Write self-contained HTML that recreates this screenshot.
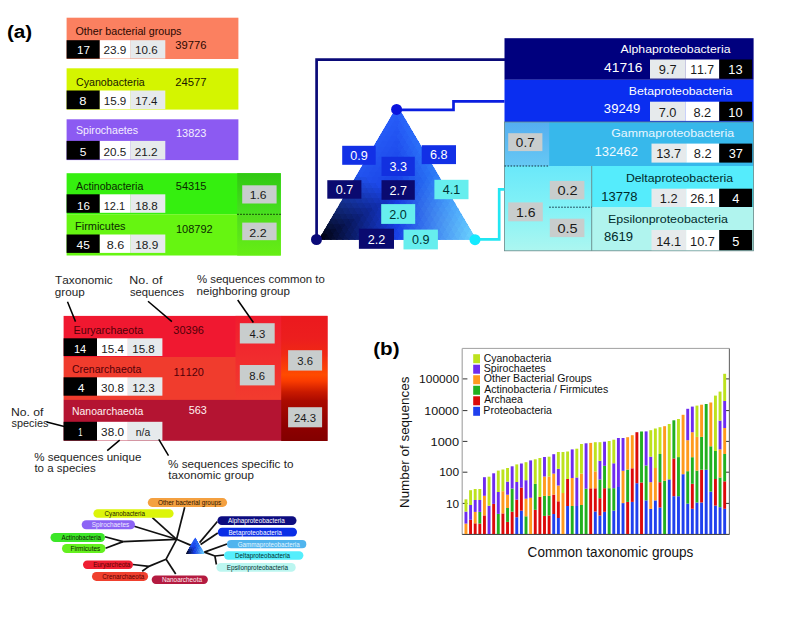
<!DOCTYPE html><html><head><meta charset="utf-8"><style>html,body{margin:0;padding:0;background:#fff;}svg{display:block;}text{font-family:"Liberation Sans",sans-serif;font-kerning:none;}</style></head><body>
<svg width="785" height="627" viewBox="0 0 785 627">
<defs><linearGradient id="actR" x1="0" y1="0" x2="0" y2="1"><stop offset="0" stop-color="#30c812"/><stop offset="0.5" stop-color="#48e020"/><stop offset="0.5" stop-color="#50dc1e"/><stop offset="1" stop-color="#66ee14"/></linearGradient><linearGradient id="arcR" x1="0" y1="0" x2="0" y2="1"><stop offset="0" stop-color="#eb191e"/><stop offset="0.18" stop-color="#ec1e1e"/><stop offset="0.3" stop-color="#f02814"/><stop offset="0.47" stop-color="#ff4b00"/><stop offset="0.52" stop-color="#fa3c00"/><stop offset="0.61" stop-color="#c81900"/><stop offset="0.68" stop-color="#aa0a00"/><stop offset="0.9" stop-color="#8c0000"/><stop offset="1" stop-color="#820000"/></linearGradient><linearGradient id="arcM" x1="0" y1="0" x2="0" y2="1"><stop offset="0" stop-color="#f01c2e"/><stop offset="1" stop-color="#f23c2e"/></linearGradient><linearGradient id="cyL" x1="0" y1="0" x2="0" y2="1"><stop offset="0" stop-color="#6ae8fa"/><stop offset="0.5" stop-color="#84f2f6"/><stop offset="1" stop-color="#acf6f0"/></linearGradient><linearGradient id="gamL" x1="0" y1="0" x2="0" y2="1"><stop offset="0" stop-color="#55aef0"/><stop offset="1" stop-color="#66c8f4"/></linearGradient><linearGradient id="triH" x1="0" y1="0" x2="1" y2="0"><stop offset="0" stop-color="#000010"/><stop offset="0.45" stop-color="#1a3ae0"/><stop offset="1" stop-color="#66ccff"/></linearGradient><linearGradient id="triV" x1="0" y1="0" x2="0" y2="1"><stop offset="0" stop-color="#2460ff" stop-opacity="1"/><stop offset="0.55" stop-color="#2460ff" stop-opacity="0.55"/><stop offset="1" stop-color="#2460ff" stop-opacity="0"/></linearGradient></defs>
<text x="6.96" y="38.00" font-size="18.8" fill="#000" textLength="25.31" lengthAdjust="spacingAndGlyphs" font-weight="bold" >(a)</text>
<rect x="66.60" y="17.70" width="171.80" height="41.30" fill="#fb8060" />
<text x="75.52" y="35.20" font-size="10.8" fill="#2a0800" textLength="105.95" lengthAdjust="spacingAndGlyphs" >Other bacterial groups</text>
<text x="175.35" y="49.40" font-size="11" fill="#2a0800" textLength="31.10" lengthAdjust="spacingAndGlyphs" >39776</text>
<rect x="66.60" y="40.20" width="33.20" height="18.40" fill="#000" />
<rect x="99.80" y="40.20" width="30.40" height="18.40" fill="#fff" />
<rect x="130.20" y="40.20" width="35.10" height="18.40" fill="#e6eaec" />
<text x="77.02" y="54.00" font-size="11.3" fill="#fff" textLength="12.99" lengthAdjust="spacingAndGlyphs" >17</text>
<text x="103.41" y="54.00" font-size="11.3" fill="#1a1a1a" textLength="22.94" lengthAdjust="spacingAndGlyphs" >23.9</text>
<text x="135.13" y="54.00" font-size="11.3" fill="#1a1a1a" textLength="22.55" lengthAdjust="spacingAndGlyphs" >10.6</text>
<rect x="66.60" y="68.30" width="171.80" height="41.30" fill="#d4f500" />
<text x="75.97" y="86.10" font-size="11" fill="#1a1a00" textLength="68.77" lengthAdjust="spacingAndGlyphs" >Cyanobacteria</text>
<text x="175.24" y="86.40" font-size="11" fill="#1a1a00" textLength="31.34" lengthAdjust="spacingAndGlyphs" >24577</text>
<rect x="66.60" y="90.50" width="33.20" height="18.70" fill="#000" />
<rect x="99.80" y="90.50" width="30.40" height="18.70" fill="#fff" />
<rect x="130.20" y="90.50" width="35.10" height="18.70" fill="#e6eaec" />
<text x="79.32" y="105.10" font-size="11.3" fill="#fff" textLength="7.22" lengthAdjust="spacingAndGlyphs" >8</text>
<text x="103.73" y="105.10" font-size="11.3" fill="#1a1a1a" textLength="22.61" lengthAdjust="spacingAndGlyphs" >15.9</text>
<text x="135.24" y="105.10" font-size="11.3" fill="#1a1a1a" textLength="22.21" lengthAdjust="spacingAndGlyphs" >17.4</text>
<rect x="66.60" y="119.30" width="171.80" height="40.80" fill="#8c5af2" />
<text x="76.02" y="133.80" font-size="11" fill="#f4eeff" textLength="61.97" lengthAdjust="spacingAndGlyphs" >Spirochaetes</text>
<text x="175.98" y="137.10" font-size="11" fill="#f4eeff" textLength="30.47" lengthAdjust="spacingAndGlyphs" >13823</text>
<rect x="66.60" y="140.90" width="33.20" height="18.70" fill="#000" />
<rect x="99.80" y="140.90" width="30.40" height="18.70" fill="#fff" />
<rect x="130.20" y="140.90" width="35.10" height="18.70" fill="#e6eaec" />
<text x="79.82" y="156.10" font-size="11.3" fill="#fff" textLength="6.67" lengthAdjust="spacingAndGlyphs" >5</text>
<text x="103.62" y="156.10" font-size="11.3" fill="#1a1a1a" textLength="22.66" lengthAdjust="spacingAndGlyphs" >20.5</text>
<text x="134.71" y="156.10" font-size="11.3" fill="#1a1a1a" textLength="23.00" lengthAdjust="spacingAndGlyphs" >21.2</text>
<rect x="66.60" y="173.20" width="214.20" height="41.00" fill="#35ef0f" />
<rect x="66.60" y="214.20" width="214.20" height="41.30" fill="#66f511" />
<rect x="237.20" y="173.20" width="43.60" height="82.30" fill="url(#actR)" />
<line x1="237.20" y1="214.30" x2="280.80" y2="214.30" stroke="#0a3300" stroke-width="1" stroke-dasharray="1.6,1.4"/>
<text x="76.10" y="190.40" font-size="11" fill="#0a2a00" textLength="67.22" lengthAdjust="spacingAndGlyphs" >Actinobacteria</text>
<text x="175.76" y="190.40" font-size="11" fill="#0a2a00" textLength="30.69" lengthAdjust="spacingAndGlyphs" >54315</text>
<rect x="66.60" y="194.30" width="33.20" height="18.50" fill="#000" />
<rect x="99.80" y="194.30" width="30.40" height="18.50" fill="#fff" />
<rect x="130.20" y="194.30" width="35.10" height="18.50" fill="#e6eaec" />
<text x="77.13" y="209.60" font-size="11.3" fill="#fff" textLength="12.86" lengthAdjust="spacingAndGlyphs" >16</text>
<text x="103.78" y="209.60" font-size="11.3" fill="#1a1a1a" textLength="21.33" lengthAdjust="spacingAndGlyphs" >12.1</text>
<text x="135.23" y="209.60" font-size="11.3" fill="#1a1a1a" textLength="22.55" lengthAdjust="spacingAndGlyphs" >18.8</text>
<text x="75.02" y="230.20" font-size="11" fill="#0a2a00" textLength="50.58" lengthAdjust="spacingAndGlyphs" >Firmicutes</text>
<text x="175.98" y="232.60" font-size="11" fill="#0a2a00" textLength="36.70" lengthAdjust="spacingAndGlyphs" >108792</text>
<rect x="66.60" y="234.50" width="33.20" height="18.40" fill="#000" />
<rect x="99.80" y="234.50" width="30.40" height="18.40" fill="#fff" />
<rect x="130.20" y="234.50" width="35.10" height="18.40" fill="#e6eaec" />
<text x="76.56" y="249.30" font-size="11.3" fill="#fff" textLength="13.24" lengthAdjust="spacingAndGlyphs" >45</text>
<text x="106.83" y="249.30" font-size="11.3" fill="#1a1a1a" textLength="17.58" lengthAdjust="spacingAndGlyphs" >8.6</text>
<text x="135.21" y="249.30" font-size="11.3" fill="#1a1a1a" textLength="23.04" lengthAdjust="spacingAndGlyphs" >18.9</text>
<rect x="242.20" y="185.30" width="34.40" height="18.20" fill="#c8cdcd" />
<text x="249.79" y="199.10" font-size="11" fill="#1a1a1a" textLength="16.79" lengthAdjust="spacingAndGlyphs" >1.6</text>
<rect x="242.20" y="222.60" width="34.40" height="17.60" fill="#c8cdcd" />
<text x="249.38" y="236.70" font-size="11" fill="#1a1a1a" textLength="17.35" lengthAdjust="spacingAndGlyphs" >2.2</text>
<rect x="63.60" y="315.90" width="263.90" height="41.10" fill="#f01830" />
<rect x="63.60" y="357.00" width="263.90" height="43.00" fill="#f03c2d" />
<rect x="235.50" y="315.90" width="45.90" height="84.10" fill="url(#arcM)" />
<rect x="63.60" y="399.90" width="263.90" height="40.90" fill="#b41432" />
<rect x="281.20" y="315.90" width="46.30" height="125.10" fill="url(#arcR)" />
<text x="73.54" y="333.70" font-size="11" fill="#520008" textLength="69.65" lengthAdjust="spacingAndGlyphs" >Euryarchaeota</text>
<text x="173.36" y="333.70" font-size="11" fill="#520008" textLength="30.49" lengthAdjust="spacingAndGlyphs" >30396</text>
<rect x="63.60" y="338.30" width="33.40" height="17.70" fill="#000" />
<rect x="97.00" y="338.30" width="30.90" height="17.70" fill="#fff" />
<rect x="127.90" y="338.30" width="34.50" height="17.70" fill="#e6eaec" />
<text x="73.97" y="352.60" font-size="11.3" fill="#fff" textLength="12.29" lengthAdjust="spacingAndGlyphs" >14</text>
<text x="101.23" y="352.60" font-size="11.3" fill="#1a1a1a" textLength="22.64" lengthAdjust="spacingAndGlyphs" >15.4</text>
<text x="132.23" y="352.60" font-size="11.3" fill="#1a1a1a" textLength="22.55" lengthAdjust="spacingAndGlyphs" >15.8</text>
<text x="71.98" y="372.70" font-size="11" fill="#520008" textLength="69.33" lengthAdjust="spacingAndGlyphs" >Crenarchaeota</text>
<text x="173.54" y="375.60" font-size="11" fill="#520008" textLength="30.29" lengthAdjust="spacingAndGlyphs" >11120</text>
<rect x="63.60" y="377.30" width="33.40" height="18.40" fill="#000" />
<rect x="97.00" y="377.30" width="30.90" height="18.40" fill="#fff" />
<rect x="127.90" y="377.30" width="34.50" height="18.40" fill="#e6eaec" />
<text x="77.66" y="392.20" font-size="11.3" fill="#fff" textLength="6.72" lengthAdjust="spacingAndGlyphs" >4</text>
<text x="101.13" y="392.20" font-size="11.3" fill="#1a1a1a" textLength="22.86" lengthAdjust="spacingAndGlyphs" >30.8</text>
<text x="132.23" y="392.20" font-size="11.3" fill="#1a1a1a" textLength="22.55" lengthAdjust="spacingAndGlyphs" >12.3</text>
<text x="72.07" y="414.70" font-size="11" fill="#fff0f0" textLength="71.17" lengthAdjust="spacingAndGlyphs" >Nanoarchaeota</text>
<text x="188.67" y="414.20" font-size="11" fill="#fff0f0" textLength="18.11" lengthAdjust="spacingAndGlyphs" >563</text>
<rect x="63.60" y="421.80" width="33.40" height="18.70" fill="#000" />
<rect x="97.00" y="421.80" width="30.90" height="18.70" fill="#fff" />
<rect x="127.90" y="421.80" width="34.50" height="18.70" fill="#e6eaec" />
<text x="78.23" y="435.70" font-size="11.3" fill="#fff" textLength="4.22" lengthAdjust="spacingAndGlyphs" >1</text>
<text x="101.13" y="435.70" font-size="11.3" fill="#1a1a1a" textLength="22.79" lengthAdjust="spacingAndGlyphs" >38.0</text>
<text x="135.82" y="435.70" font-size="11.3" fill="#1a1a1a" textLength="14.48" lengthAdjust="spacingAndGlyphs" >n/a</text>
<rect x="239.80" y="323.20" width="34.90" height="20.30" fill="#c8cdcd" />
<text x="249.51" y="337.90" font-size="11.3" fill="#1a1a1a" textLength="15.71" lengthAdjust="spacingAndGlyphs" >4.3</text>
<rect x="239.80" y="365.00" width="34.90" height="20.40" fill="#c8cdcd" />
<text x="249.37" y="379.80" font-size="11.3" fill="#1a1a1a" textLength="15.71" lengthAdjust="spacingAndGlyphs" >8.6</text>
<rect x="288.10" y="350.20" width="34.00" height="20.40" fill="#c8cdcd" />
<text x="297.25" y="365.00" font-size="11.3" fill="#1a1a1a" textLength="15.71" lengthAdjust="spacingAndGlyphs" >3.6</text>
<rect x="288.10" y="407.20" width="34.00" height="20.10" fill="#c8cdcd" />
<text x="294.05" y="421.70" font-size="11.3" fill="#1a1a1a" textLength="21.99" lengthAdjust="spacingAndGlyphs" >24.3</text>
<text x="55.06" y="284.40" font-size="11.2" fill="#1e1e1e" textLength="57.64" lengthAdjust="spacingAndGlyphs" >Taxonomic</text>
<text x="54.83" y="295.60" font-size="11.2" fill="#1e1e1e" textLength="29.87" lengthAdjust="spacingAndGlyphs" >group</text>
<text x="129.31" y="284.40" font-size="11.2" fill="#1e1e1e" textLength="33.17" lengthAdjust="spacingAndGlyphs" >No. of</text>
<text x="129.96" y="295.60" font-size="11.2" fill="#1e1e1e" textLength="54.15" lengthAdjust="spacingAndGlyphs" >sequences</text>
<text x="196.90" y="283.30" font-size="11.2" fill="#1e1e1e" textLength="127.89" lengthAdjust="spacingAndGlyphs" >% sequences common to</text>
<text x="196.55" y="294.60" font-size="11.2" fill="#1e1e1e" textLength="93.44" lengthAdjust="spacingAndGlyphs" >neighboring group</text>
<text x="10.92" y="416.00" font-size="11.2" fill="#1e1e1e" textLength="32.55" lengthAdjust="spacingAndGlyphs" >No. of</text>
<text x="11.57" y="426.80" font-size="11.2" fill="#1e1e1e" textLength="36.81" lengthAdjust="spacingAndGlyphs" >species</text>
<text x="34.20" y="461.00" font-size="11.2" fill="#1e1e1e" textLength="107.12" lengthAdjust="spacingAndGlyphs" >% sequences unique</text>
<text x="34.43" y="472.30" font-size="11.2" fill="#1e1e1e" textLength="61.29" lengthAdjust="spacingAndGlyphs" >to a species</text>
<text x="168.09" y="467.90" font-size="11.2" fill="#1e1e1e" textLength="125.31" lengthAdjust="spacingAndGlyphs" >% sequences specific to</text>
<text x="168.33" y="479.10" font-size="11.2" fill="#1e1e1e" textLength="85.68" lengthAdjust="spacingAndGlyphs" >taxonomic group</text>
<line x1="67.50" y1="301.70" x2="75.50" y2="321.60" stroke="#000" stroke-width="1.5" />
<line x1="148.00" y1="301.30" x2="171.90" y2="321.60" stroke="#000" stroke-width="1.5" />
<line x1="237.70" y1="300.00" x2="253.40" y2="322.50" stroke="#000" stroke-width="1.5" />
<line x1="46.60" y1="422.00" x2="64.30" y2="426.40" stroke="#000" stroke-width="1.5" />
<line x1="107.20" y1="450.60" x2="119.70" y2="440.20" stroke="#000" stroke-width="1.5" />
<line x1="158.80" y1="439.40" x2="168.50" y2="455.70" stroke="#000" stroke-width="1.5" />
<rect x="504.50" y="38.20" width="249.10" height="41.60" fill="#00007e" />
<rect x="504.50" y="79.80" width="249.10" height="42.20" fill="#0a2ef0" />
<rect x="504.50" y="122.00" width="249.10" height="44.00" fill="#37b8eb" />
<rect x="504.50" y="122.00" width="44.70" height="44.00" fill="url(#gamL)" />
<rect x="591.70" y="166.00" width="161.90" height="41.50" fill="#55ecfc" />
<rect x="591.70" y="207.50" width="161.90" height="43.30" fill="#b0f4ee" />
<rect x="504.50" y="166.00" width="87.20" height="84.80" fill="url(#cyL)" />
<line x1="591.70" y1="166.00" x2="591.70" y2="250.80" stroke="#557777" stroke-width="0.8" />
<rect x="504.5" y="122" width="249.1" height="128.8" fill="none" stroke="#668888" stroke-width="0.8"/>
<line x1="504.50" y1="166.00" x2="549.20" y2="166.00" stroke="#113344" stroke-width="1" stroke-dasharray="1.6,1.4"/>
<line x1="549.20" y1="207.20" x2="591.70" y2="207.20" stroke="#113344" stroke-width="1" stroke-dasharray="1.6,1.4"/>
<text x="620.60" y="53.40" font-size="11.6" fill="#ffffff" textLength="109.91" lengthAdjust="spacingAndGlyphs" >Alphaproteobacteria</text>
<text x="604.12" y="71.60" font-size="12" fill="#ffffff" textLength="38.24" lengthAdjust="spacingAndGlyphs" >41716</text>
<text x="628.72" y="95.00" font-size="11.6" fill="#ffffff" textLength="103.69" lengthAdjust="spacingAndGlyphs" >Betaproteobacteria</text>
<text x="603.88" y="113.40" font-size="12" fill="#ffffff" textLength="36.32" lengthAdjust="spacingAndGlyphs" >39249</text>
<text x="611.28" y="136.70" font-size="11.6" fill="#e8f6ff" textLength="122.81" lengthAdjust="spacingAndGlyphs" >Gammaproteobacteria</text>
<text x="594.62" y="155.70" font-size="12" fill="#f0faff" textLength="43.45" lengthAdjust="spacingAndGlyphs" >132462</text>
<text x="625.92" y="181.60" font-size="11.6" fill="#002a2a" textLength="107.12" lengthAdjust="spacingAndGlyphs" >Deltaproteobacteria</text>
<text x="601.33" y="201.00" font-size="12" fill="#002a2a" textLength="36.10" lengthAdjust="spacingAndGlyphs" >13778</text>
<text x="608.01" y="223.40" font-size="11.6" fill="#002a2a" textLength="120.03" lengthAdjust="spacingAndGlyphs" >Epsilonproteobacteria</text>
<text x="603.91" y="241.20" font-size="12" fill="#002a2a" textLength="29.07" lengthAdjust="spacingAndGlyphs" >8619</text>
<rect x="650.00" y="59.50" width="35.30" height="19.10" fill="#e6eaec" />
<rect x="685.30" y="59.50" width="34.00" height="19.10" fill="#fff" />
<rect x="719.30" y="59.50" width="32.70" height="19.10" fill="#000" />
<text x="658.79" y="74.40" font-size="12.8" fill="#1a1a1a" textLength="17.79" lengthAdjust="spacingAndGlyphs" >9.7</text>
<text x="690.17" y="74.40" font-size="12.8" fill="#1a1a1a" textLength="23.96" lengthAdjust="spacingAndGlyphs" >11.7</text>
<text x="728.32" y="74.40" font-size="12.8" fill="#fff" textLength="14.24" lengthAdjust="spacingAndGlyphs" >13</text>
<rect x="650.00" y="101.70" width="35.30" height="19.20" fill="#e6eaec" />
<rect x="685.30" y="101.70" width="34.00" height="19.20" fill="#fff" />
<rect x="719.30" y="101.70" width="32.70" height="19.20" fill="#000" />
<text x="658.66" y="116.50" font-size="12.8" fill="#1a1a1a" textLength="17.79" lengthAdjust="spacingAndGlyphs" >7.0</text>
<text x="693.44" y="116.50" font-size="12.8" fill="#1a1a1a" textLength="17.79" lengthAdjust="spacingAndGlyphs" >8.2</text>
<text x="728.29" y="116.50" font-size="12.8" fill="#fff" textLength="14.24" lengthAdjust="spacingAndGlyphs" >10</text>
<rect x="651.50" y="143.60" width="34.70" height="19.00" fill="#e6eaec" />
<rect x="686.20" y="143.60" width="33.00" height="19.00" fill="#fff" />
<rect x="719.20" y="143.60" width="33.00" height="19.00" fill="#000" />
<text x="656.24" y="158.20" font-size="12.8" fill="#1a1a1a" textLength="24.91" lengthAdjust="spacingAndGlyphs" >13.7</text>
<text x="693.84" y="158.20" font-size="12.8" fill="#1a1a1a" textLength="17.79" lengthAdjust="spacingAndGlyphs" >8.2</text>
<text x="728.66" y="158.20" font-size="12.8" fill="#fff" textLength="14.24" lengthAdjust="spacingAndGlyphs" >37</text>
<rect x="651.50" y="188.70" width="34.70" height="18.30" fill="#e6eaec" />
<rect x="686.20" y="188.70" width="33.00" height="18.30" fill="#fff" />
<rect x="719.20" y="188.70" width="33.00" height="18.30" fill="#000" />
<text x="659.79" y="202.70" font-size="12.8" fill="#1a1a1a" textLength="17.79" lengthAdjust="spacingAndGlyphs" >1.2</text>
<text x="690.22" y="202.70" font-size="12.8" fill="#1a1a1a" textLength="24.91" lengthAdjust="spacingAndGlyphs" >26.1</text>
<text x="732.21" y="202.70" font-size="12.8" fill="#fff" textLength="7.12" lengthAdjust="spacingAndGlyphs" >4</text>
<rect x="651.50" y="230.00" width="34.70" height="20.20" fill="#e6eaec" />
<rect x="686.20" y="230.00" width="33.00" height="20.20" fill="#fff" />
<rect x="719.20" y="230.00" width="33.00" height="20.20" fill="#000" />
<text x="656.21" y="245.80" font-size="12.8" fill="#1a1a1a" textLength="24.91" lengthAdjust="spacingAndGlyphs" >14.1</text>
<text x="690.09" y="245.80" font-size="12.8" fill="#1a1a1a" textLength="24.91" lengthAdjust="spacingAndGlyphs" >10.7</text>
<text x="732.15" y="245.80" font-size="12.8" fill="#fff" textLength="7.12" lengthAdjust="spacingAndGlyphs" >5</text>
<rect x="508.20" y="133.20" width="34.20" height="17.90" fill="#c8cdcd" />
<text x="515.86" y="147.00" font-size="12.2" fill="#1a1a1a" textLength="18.82" lengthAdjust="spacingAndGlyphs" >0.7</text>
<rect x="508.20" y="202.40" width="34.60" height="18.90" fill="#c8cdcd" />
<text x="515.95" y="217.30" font-size="12.2" fill="#1a1a1a" textLength="19.52" lengthAdjust="spacingAndGlyphs" >1.6</text>
<rect x="549.80" y="180.90" width="34.60" height="18.50" fill="#c8cdcd" />
<text x="557.42" y="195.30" font-size="12.2" fill="#1a1a1a" textLength="20.32" lengthAdjust="spacingAndGlyphs" >0.2</text>
<rect x="549.80" y="218.70" width="34.60" height="18.40" fill="#c8cdcd" />
<text x="557.42" y="232.70" font-size="12.2" fill="#1a1a1a" textLength="20.16" lengthAdjust="spacingAndGlyphs" >0.5</text>
<polyline points="505,59.6 316.6,59.6 316.6,239.5" fill="none" stroke="#0a0a78" stroke-width="2.7"/>
<polyline points="396.6,109.8 453.5,109.8 453.5,101.4 504.5,101.4" fill="none" stroke="#0a1ee0" stroke-width="2.7"/>
<polyline points="475,239.4 499.2,239.4 499.2,189.3 504.5,189.3" fill="none" stroke="#22e6f2" stroke-width="2.7"/>
<clipPath id="tc172"><polygon points="397.4,105.7 318.6,239.8 476.6,239.8"/></clipPath>
<g clip-path="url(#tc172)" shape-rendering="crispEdges"><polygon points="397.4,105.7 394.4,110.9 400.4,110.9" fill="#275ef9" stroke="#275ef9" stroke-width="1"/><polygon points="394.4,110.9 391.3,116.0 397.4,116.0" fill="#275df8" stroke="#275df8" stroke-width="1"/><polygon points="394.4,110.9 400.4,110.9 397.4,116.0" fill="#275cf8" stroke="#275cf8" stroke-width="1"/><polygon points="400.4,110.9 397.4,116.0 403.5,116.0" fill="#2860f9" stroke="#2860f9" stroke-width="1"/><polygon points="391.3,116.0 388.3,121.2 394.4,121.2" fill="#275cf8" stroke="#275cf8" stroke-width="1"/><polygon points="391.3,116.0 397.4,116.0 394.4,121.2" fill="#265cf7" stroke="#265cf7" stroke-width="1"/><polygon points="397.4,116.0 394.4,121.2 400.5,121.2" fill="#255af6" stroke="#255af6" stroke-width="1"/><polygon points="397.4,116.0 403.5,116.0 400.5,121.2" fill="#275ff8" stroke="#275ff8" stroke-width="1"/><polygon points="403.5,116.0 400.5,121.2 406.5,121.2" fill="#2862f9" stroke="#2862f9" stroke-width="1"/><polygon points="388.3,121.2 385.3,126.3 391.4,126.3" fill="#265bf7" stroke="#265bf7" stroke-width="1"/><polygon points="388.3,121.2 394.4,121.2 391.4,126.3" fill="#265bf7" stroke="#265bf7" stroke-width="1"/><polygon points="394.4,121.2 391.4,126.3 397.4,126.3" fill="#2559f5" stroke="#2559f5" stroke-width="1"/><polygon points="394.4,121.2 400.5,121.2 397.4,126.3" fill="#2558f5" stroke="#2558f5" stroke-width="1"/><polygon points="400.5,121.2 397.4,126.3 403.5,126.3" fill="#265cf6" stroke="#265cf6" stroke-width="1"/><polygon points="400.5,121.2 406.5,121.2 403.5,126.3" fill="#2761f8" stroke="#2761f8" stroke-width="1"/><polygon points="406.5,121.2 403.5,126.3 409.6,126.3" fill="#2865f9" stroke="#2865f9" stroke-width="1"/><polygon points="385.3,126.3 382.2,131.5 388.3,131.5" fill="#265bf6" stroke="#265bf6" stroke-width="1"/><polygon points="385.3,126.3 391.4,126.3 388.3,131.5" fill="#255af6" stroke="#255af6" stroke-width="1"/><polygon points="391.4,126.3 388.3,131.5 394.4,131.5" fill="#2458f5" stroke="#2458f5" stroke-width="1"/><polygon points="391.4,126.3 397.4,126.3 394.4,131.5" fill="#2458f4" stroke="#2458f4" stroke-width="1"/><polygon points="397.4,126.3 394.4,131.5 400.5,131.5" fill="#2356f3" stroke="#2356f3" stroke-width="1"/><polygon points="397.4,126.3 403.5,126.3 400.5,131.5" fill="#255bf5" stroke="#255bf5" stroke-width="1"/><polygon points="403.5,126.3 400.5,131.5 406.6,131.5" fill="#265ef6" stroke="#265ef6" stroke-width="1"/><polygon points="403.5,126.3 409.6,126.3 406.6,131.5" fill="#2863f8" stroke="#2863f8" stroke-width="1"/><polygon points="409.6,126.3 406.6,131.5 412.6,131.5" fill="#2967f8" stroke="#2967f8" stroke-width="1"/><polygon points="382.2,131.5 379.2,136.6 385.3,136.6" fill="#255af5" stroke="#255af5" stroke-width="1"/><polygon points="382.2,131.5 388.3,131.5 385.3,136.6" fill="#2559f5" stroke="#2559f5" stroke-width="1"/><polygon points="388.3,131.5 385.3,136.6 391.4,136.6" fill="#2457f4" stroke="#2457f4" stroke-width="1"/><polygon points="388.3,131.5 394.4,131.5 391.4,136.6" fill="#2457f4" stroke="#2457f4" stroke-width="1"/><polygon points="394.4,131.5 391.4,136.6 397.4,136.6" fill="#2355f2" stroke="#2355f2" stroke-width="1"/><polygon points="394.4,131.5 400.5,131.5 397.4,136.6" fill="#2254f2" stroke="#2254f2" stroke-width="1"/><polygon points="400.5,131.5 397.4,136.6 403.5,136.6" fill="#2458f3" stroke="#2458f3" stroke-width="1"/><polygon points="400.5,131.5 406.6,131.5 403.5,136.6" fill="#255df5" stroke="#255df5" stroke-width="1"/><polygon points="406.6,131.5 403.5,136.6 409.6,136.6" fill="#2661f6" stroke="#2661f6" stroke-width="1"/><polygon points="406.6,131.5 412.6,131.5 409.6,136.6" fill="#2866f7" stroke="#2866f7" stroke-width="1"/><polygon points="412.6,131.5 409.6,136.6 415.7,136.6" fill="#2969f8" stroke="#2969f8" stroke-width="1"/><polygon points="379.2,136.6 376.2,141.8 382.3,141.8" fill="#2559f4" stroke="#2559f4" stroke-width="1"/><polygon points="379.2,136.6 385.3,136.6 382.3,141.8" fill="#2558f4" stroke="#2558f4" stroke-width="1"/><polygon points="385.3,136.6 382.3,141.8 388.3,141.8" fill="#2457f3" stroke="#2457f3" stroke-width="1"/><polygon points="385.3,136.6 391.4,136.6 388.3,141.8" fill="#2356f3" stroke="#2356f3" stroke-width="1"/><polygon points="391.4,136.6 388.3,141.8 394.4,141.8" fill="#2254f2" stroke="#2254f2" stroke-width="1"/><polygon points="391.4,136.6 397.4,136.6 394.4,141.8" fill="#2253f2" stroke="#2253f2" stroke-width="1"/><polygon points="397.4,136.6 394.4,141.8 400.5,141.8" fill="#2152f0" stroke="#2152f0" stroke-width="1"/><polygon points="397.4,136.6 403.5,136.6 400.5,141.8" fill="#2357f2" stroke="#2357f2" stroke-width="1"/><polygon points="403.5,136.6 400.5,141.8 406.6,141.8" fill="#245af3" stroke="#245af3" stroke-width="1"/><polygon points="403.5,136.6 409.6,136.6 406.6,141.8" fill="#265ff5" stroke="#265ff5" stroke-width="1"/><polygon points="409.6,136.6 406.6,141.8 412.6,141.8" fill="#2763f6" stroke="#2763f6" stroke-width="1"/><polygon points="409.6,136.6 415.7,136.6 412.6,141.8" fill="#2968f7" stroke="#2968f7" stroke-width="1"/><polygon points="415.7,136.6 412.6,141.8 418.7,141.8" fill="#2a6cf8" stroke="#2a6cf8" stroke-width="1"/><polygon points="376.2,141.8 373.2,147.0 379.2,147.0" fill="#2558f4" stroke="#2558f4" stroke-width="1"/><polygon points="376.2,141.8 382.3,141.8 379.2,147.0" fill="#2458f3" stroke="#2458f3" stroke-width="1"/><polygon points="382.3,141.8 379.2,147.0 385.3,147.0" fill="#2356f2" stroke="#2356f2" stroke-width="1"/><polygon points="382.3,141.8 388.3,141.8 385.3,147.0" fill="#2355f2" stroke="#2355f2" stroke-width="1"/><polygon points="388.3,141.8 385.3,147.0 391.4,147.0" fill="#2253f1" stroke="#2253f1" stroke-width="1"/><polygon points="388.3,141.8 394.4,141.8 391.4,147.0" fill="#2253f1" stroke="#2253f1" stroke-width="1"/><polygon points="394.4,141.8 391.4,147.0 397.5,147.0" fill="#2151f0" stroke="#2151f0" stroke-width="1"/><polygon points="394.4,141.8 400.5,141.8 397.5,147.0" fill="#2050ef" stroke="#2050ef" stroke-width="1"/><polygon points="400.5,141.8 397.5,147.0 403.5,147.0" fill="#2154f0" stroke="#2154f0" stroke-width="1"/><polygon points="400.5,141.8 406.6,141.8 403.5,147.0" fill="#2359f2" stroke="#2359f2" stroke-width="1"/><polygon points="406.6,141.8 403.5,147.0 409.6,147.0" fill="#245cf3" stroke="#245cf3" stroke-width="1"/><polygon points="406.6,141.8 412.6,141.8 409.6,147.0" fill="#2662f5" stroke="#2662f5" stroke-width="1"/><polygon points="412.6,141.8 409.6,147.0 415.7,147.0" fill="#2765f5" stroke="#2765f5" stroke-width="1"/><polygon points="412.6,141.8 418.7,141.8 415.7,147.0" fill="#296af7" stroke="#296af7" stroke-width="1"/><polygon points="418.7,141.8 415.7,147.0 421.8,147.0" fill="#2a6ef8" stroke="#2a6ef8" stroke-width="1"/><polygon points="373.2,147.0 370.1,152.1 376.2,152.1" fill="#2458f3" stroke="#2458f3" stroke-width="1"/><polygon points="373.2,147.0 379.2,147.0 376.2,152.1" fill="#2457f3" stroke="#2457f3" stroke-width="1"/><polygon points="379.2,147.0 376.2,152.1 382.3,152.1" fill="#2355f2" stroke="#2355f2" stroke-width="1"/><polygon points="379.2,147.0 385.3,147.0 382.3,152.1" fill="#2354f1" stroke="#2354f1" stroke-width="1"/><polygon points="385.3,147.0 382.3,152.1 388.4,152.1" fill="#2252f0" stroke="#2252f0" stroke-width="1"/><polygon points="385.3,147.0 391.4,147.0 388.4,152.1" fill="#2152f0" stroke="#2152f0" stroke-width="1"/><polygon points="391.4,147.0 388.4,152.1 394.4,152.1" fill="#2050ef" stroke="#2050ef" stroke-width="1"/><polygon points="391.4,147.0 397.5,147.0 394.4,152.1" fill="#204fef" stroke="#204fef" stroke-width="1"/><polygon points="397.5,147.0 394.4,152.1 400.5,152.1" fill="#1f4eee" stroke="#1f4eee" stroke-width="1"/><polygon points="397.5,147.0 403.5,147.0 400.5,152.1" fill="#2152ef" stroke="#2152ef" stroke-width="1"/><polygon points="403.5,147.0 400.5,152.1 406.6,152.1" fill="#2256f0" stroke="#2256f0" stroke-width="1"/><polygon points="403.5,147.0 409.6,147.0 406.6,152.1" fill="#245bf2" stroke="#245bf2" stroke-width="1"/><polygon points="409.6,147.0 406.6,152.1 412.7,152.1" fill="#255ff3" stroke="#255ff3" stroke-width="1"/><polygon points="409.6,147.0 415.7,147.0 412.7,152.1" fill="#2664f4" stroke="#2664f4" stroke-width="1"/><polygon points="415.7,147.0 412.7,152.1 418.7,152.1" fill="#2867f5" stroke="#2867f5" stroke-width="1"/><polygon points="415.7,147.0 421.8,147.0 418.7,152.1" fill="#296cf7" stroke="#296cf7" stroke-width="1"/><polygon points="421.8,147.0 418.7,152.1 424.8,152.1" fill="#2a70f8" stroke="#2a70f8" stroke-width="1"/><polygon points="370.1,152.1 367.1,157.3 373.2,157.3" fill="#2457f2" stroke="#2457f2" stroke-width="1"/><polygon points="370.1,152.1 376.2,152.1 373.2,157.3" fill="#2456f2" stroke="#2456f2" stroke-width="1"/><polygon points="376.2,152.1 373.2,157.3 379.2,157.3" fill="#2354f1" stroke="#2354f1" stroke-width="1"/><polygon points="376.2,152.1 382.3,152.1 379.2,157.3" fill="#2254f1" stroke="#2254f1" stroke-width="1"/><polygon points="382.3,152.1 379.2,157.3 385.3,157.3" fill="#2152ef" stroke="#2152ef" stroke-width="1"/><polygon points="382.3,152.1 388.4,152.1 385.3,157.3" fill="#2151ef" stroke="#2151ef" stroke-width="1"/><polygon points="388.4,152.1 385.3,157.3 391.4,157.3" fill="#204fee" stroke="#204fee" stroke-width="1"/><polygon points="388.4,152.1 394.4,152.1 391.4,157.3" fill="#204fee" stroke="#204fee" stroke-width="1"/><polygon points="394.4,152.1 391.4,157.3 397.5,157.3" fill="#1f4ded" stroke="#1f4ded" stroke-width="1"/><polygon points="394.4,152.1 400.5,152.1 397.5,157.3" fill="#1e4ced" stroke="#1e4ced" stroke-width="1"/><polygon points="400.5,152.1 397.5,157.3 403.6,157.3" fill="#1f50ed" stroke="#1f50ed" stroke-width="1"/><polygon points="400.5,152.1 406.6,152.1 403.6,157.3" fill="#2155ef" stroke="#2155ef" stroke-width="1"/><polygon points="406.6,152.1 403.6,157.3 409.6,157.3" fill="#2258f0" stroke="#2258f0" stroke-width="1"/><polygon points="406.6,152.1 412.7,152.1 409.6,157.3" fill="#245df2" stroke="#245df2" stroke-width="1"/><polygon points="412.7,152.1 409.6,157.3 415.7,157.3" fill="#2561f2" stroke="#2561f2" stroke-width="1"/><polygon points="412.7,152.1 418.7,152.1 415.7,157.3" fill="#2766f4" stroke="#2766f4" stroke-width="1"/><polygon points="418.7,152.1 415.7,157.3 421.8,157.3" fill="#286af5" stroke="#286af5" stroke-width="1"/><polygon points="418.7,152.1 424.8,152.1 421.8,157.3" fill="#2a6ff7" stroke="#2a6ff7" stroke-width="1"/><polygon points="424.8,152.1 421.8,157.3 427.9,157.3" fill="#2b72f8" stroke="#2b72f8" stroke-width="1"/><polygon points="367.1,157.3 364.1,162.4 370.1,162.4" fill="#2356f1" stroke="#2356f1" stroke-width="1"/><polygon points="367.1,157.3 373.2,157.3 370.1,162.4" fill="#2355f1" stroke="#2355f1" stroke-width="1"/><polygon points="373.2,157.3 370.1,162.4 376.2,162.4" fill="#2253f0" stroke="#2253f0" stroke-width="1"/><polygon points="373.2,157.3 379.2,157.3 376.2,162.4" fill="#2253f0" stroke="#2253f0" stroke-width="1"/><polygon points="379.2,157.3 376.2,162.4 382.3,162.4" fill="#2151ef" stroke="#2151ef" stroke-width="1"/><polygon points="379.2,157.3 385.3,157.3 382.3,162.4" fill="#2150ee" stroke="#2150ee" stroke-width="1"/><polygon points="385.3,157.3 382.3,162.4 388.4,162.4" fill="#204eed" stroke="#204eed" stroke-width="1"/><polygon points="385.3,157.3 391.4,157.3 388.4,162.4" fill="#1f4eed" stroke="#1f4eed" stroke-width="1"/><polygon points="391.4,157.3 388.4,162.4 394.4,162.4" fill="#1e4cec" stroke="#1e4cec" stroke-width="1"/><polygon points="391.4,157.3 397.5,157.3 394.4,162.4" fill="#1e4bec" stroke="#1e4bec" stroke-width="1"/><polygon points="397.5,157.3 394.4,162.4 400.5,162.4" fill="#1d49eb" stroke="#1d49eb" stroke-width="1"/><polygon points="397.5,157.3 403.6,157.3 400.5,162.4" fill="#1f4eec" stroke="#1f4eec" stroke-width="1"/><polygon points="403.6,157.3 400.5,162.4 406.6,162.4" fill="#2052ed" stroke="#2052ed" stroke-width="1"/><polygon points="403.6,157.3 409.6,157.3 406.6,162.4" fill="#2257ef" stroke="#2257ef" stroke-width="1"/><polygon points="409.6,157.3 406.6,162.4 412.7,162.4" fill="#235bf0" stroke="#235bf0" stroke-width="1"/><polygon points="409.6,157.3 415.7,157.3 412.7,162.4" fill="#2460f2" stroke="#2460f2" stroke-width="1"/><polygon points="415.7,157.3 412.7,162.4 418.8,162.4" fill="#2563f2" stroke="#2563f2" stroke-width="1"/><polygon points="415.7,157.3 421.8,157.3 418.8,162.4" fill="#2768f4" stroke="#2768f4" stroke-width="1"/><polygon points="421.8,157.3 418.8,162.4 424.8,162.4" fill="#286cf5" stroke="#286cf5" stroke-width="1"/><polygon points="421.8,157.3 427.9,157.3 424.8,162.4" fill="#2a71f7" stroke="#2a71f7" stroke-width="1"/><polygon points="427.9,157.3 424.8,162.4 430.9,162.4" fill="#2b75f8" stroke="#2b75f8" stroke-width="1"/><polygon points="364.1,162.4 361.0,167.6 367.1,167.6" fill="#2355f1" stroke="#2355f1" stroke-width="1"/><polygon points="364.1,162.4 370.1,162.4 367.1,167.6" fill="#2355f0" stroke="#2355f0" stroke-width="1"/><polygon points="370.1,162.4 367.1,167.6 373.2,167.6" fill="#2253ef" stroke="#2253ef" stroke-width="1"/><polygon points="370.1,162.4 376.2,162.4 373.2,167.6" fill="#2152ef" stroke="#2152ef" stroke-width="1"/><polygon points="376.2,162.4 373.2,167.6 379.3,167.6" fill="#2050ee" stroke="#2050ee" stroke-width="1"/><polygon points="376.2,162.4 382.3,162.4 379.3,167.6" fill="#2050ee" stroke="#2050ee" stroke-width="1"/><polygon points="382.3,162.4 379.3,167.6 385.3,167.6" fill="#1f4eed" stroke="#1f4eed" stroke-width="1"/><polygon points="382.3,162.4 388.4,162.4 385.3,167.6" fill="#1f4dec" stroke="#1f4dec" stroke-width="1"/><polygon points="388.4,162.4 385.3,167.6 391.4,167.6" fill="#1e4beb" stroke="#1e4beb" stroke-width="1"/><polygon points="388.4,162.4 394.4,162.4 391.4,167.6" fill="#1e4beb" stroke="#1e4beb" stroke-width="1"/><polygon points="394.4,162.4 391.4,167.6 397.5,167.6" fill="#1d49ea" stroke="#1d49ea" stroke-width="1"/><polygon points="394.4,162.4 400.5,162.4 397.5,167.6" fill="#1c48ea" stroke="#1c48ea" stroke-width="1"/><polygon points="400.5,162.4 397.5,167.6 403.6,167.6" fill="#1d4cea" stroke="#1d4cea" stroke-width="1"/><polygon points="400.5,162.4 406.6,162.4 403.6,167.6" fill="#1f51ec" stroke="#1f51ec" stroke-width="1"/><polygon points="406.6,162.4 403.6,167.6 409.6,167.6" fill="#2054ed" stroke="#2054ed" stroke-width="1"/><polygon points="406.6,162.4 412.7,162.4 409.6,167.6" fill="#2259ef" stroke="#2259ef" stroke-width="1"/><polygon points="412.7,162.4 409.6,167.6 415.7,167.6" fill="#235df0" stroke="#235df0" stroke-width="1"/><polygon points="412.7,162.4 418.8,162.4 415.7,167.6" fill="#2562f1" stroke="#2562f1" stroke-width="1"/><polygon points="418.8,162.4 415.7,167.6 421.8,167.6" fill="#2666f2" stroke="#2666f2" stroke-width="1"/><polygon points="418.8,162.4 424.8,162.4 421.8,167.6" fill="#286bf4" stroke="#286bf4" stroke-width="1"/><polygon points="424.8,162.4 421.8,167.6 427.9,167.6" fill="#296ef5" stroke="#296ef5" stroke-width="1"/><polygon points="424.8,162.4 430.9,162.4 427.9,167.6" fill="#2a73f7" stroke="#2a73f7" stroke-width="1"/><polygon points="430.9,162.4 427.9,167.6 434.0,167.6" fill="#2c77f7" stroke="#2c77f7" stroke-width="1"/><polygon points="361.0,167.6 358.0,172.8 364.1,172.8" fill="#2354f0" stroke="#2354f0" stroke-width="1"/><polygon points="361.0,167.6 367.1,167.6 364.1,172.8" fill="#2254f0" stroke="#2254f0" stroke-width="1"/><polygon points="367.1,167.6 364.1,172.8 370.2,172.8" fill="#2152ee" stroke="#2152ee" stroke-width="1"/><polygon points="367.1,167.6 373.2,167.6 370.2,172.8" fill="#2151ee" stroke="#2151ee" stroke-width="1"/><polygon points="373.2,167.6 370.2,172.8 376.2,172.8" fill="#204fed" stroke="#204fed" stroke-width="1"/><polygon points="373.2,167.6 379.3,167.6 376.2,172.8" fill="#204fed" stroke="#204fed" stroke-width="1"/><polygon points="379.3,167.6 376.2,172.8 382.3,172.8" fill="#1f4dec" stroke="#1f4dec" stroke-width="1"/><polygon points="379.3,167.6 385.3,167.6 382.3,172.8" fill="#1e4cec" stroke="#1e4cec" stroke-width="1"/><polygon points="385.3,167.6 382.3,172.8 388.4,172.8" fill="#1d4aea" stroke="#1d4aea" stroke-width="1"/><polygon points="385.3,167.6 391.4,167.6 388.4,172.8" fill="#1d4aea" stroke="#1d4aea" stroke-width="1"/><polygon points="391.4,167.6 388.4,172.8 394.5,172.8" fill="#1c48e9" stroke="#1c48e9" stroke-width="1"/><polygon points="391.4,167.6 397.5,167.6 394.5,172.8" fill="#1c47e9" stroke="#1c47e9" stroke-width="1"/><polygon points="397.5,167.6 394.5,172.8 400.5,172.8" fill="#1b45e8" stroke="#1b45e8" stroke-width="1"/><polygon points="397.5,167.6 403.6,167.6 400.5,172.8" fill="#1d4aea" stroke="#1d4aea" stroke-width="1"/><polygon points="403.6,167.6 400.5,172.8 406.6,172.8" fill="#1e4eea" stroke="#1e4eea" stroke-width="1"/><polygon points="403.6,167.6 409.6,167.6 406.6,172.8" fill="#1f53ec" stroke="#1f53ec" stroke-width="1"/><polygon points="409.6,167.6 406.6,172.8 412.7,172.8" fill="#2157ed" stroke="#2157ed" stroke-width="1"/><polygon points="409.6,167.6 415.7,167.6 412.7,172.8" fill="#225cef" stroke="#225cef" stroke-width="1"/><polygon points="415.7,167.6 412.7,172.8 418.8,172.8" fill="#235fef" stroke="#235fef" stroke-width="1"/><polygon points="415.7,167.6 421.8,167.6 418.8,172.8" fill="#2564f1" stroke="#2564f1" stroke-width="1"/><polygon points="421.8,167.6 418.8,172.8 424.8,172.8" fill="#2668f2" stroke="#2668f2" stroke-width="1"/><polygon points="421.8,167.6 427.9,167.6 424.8,172.8" fill="#286df4" stroke="#286df4" stroke-width="1"/><polygon points="427.9,167.6 424.8,172.8 430.9,172.8" fill="#2971f5" stroke="#2971f5" stroke-width="1"/><polygon points="427.9,167.6 434.0,167.6 430.9,172.8" fill="#2b76f6" stroke="#2b76f6" stroke-width="1"/><polygon points="434.0,167.6 430.9,172.8 437.0,172.8" fill="#2c79f7" stroke="#2c79f7" stroke-width="1"/><polygon points="358.0,172.8 355.0,177.9 361.0,177.9" fill="#2151e7" stroke="#2151e7" stroke-width="1"/><polygon points="358.0,172.8 364.1,172.8 361.0,177.9" fill="#2253ef" stroke="#2253ef" stroke-width="1"/><polygon points="364.1,172.8 361.0,177.9 367.1,177.9" fill="#2151ee" stroke="#2151ee" stroke-width="1"/><polygon points="364.1,172.8 370.2,172.8 367.1,177.9" fill="#2151ee" stroke="#2151ee" stroke-width="1"/><polygon points="370.2,172.8 367.1,177.9 373.2,177.9" fill="#204fec" stroke="#204fec" stroke-width="1"/><polygon points="370.2,172.8 376.2,172.8 373.2,177.9" fill="#1f4eec" stroke="#1f4eec" stroke-width="1"/><polygon points="376.2,172.8 373.2,177.9 379.3,177.9" fill="#1e4ceb" stroke="#1e4ceb" stroke-width="1"/><polygon points="376.2,172.8 382.3,172.8 379.3,177.9" fill="#1e4ceb" stroke="#1e4ceb" stroke-width="1"/><polygon points="382.3,172.8 379.3,177.9 385.4,177.9" fill="#1d4aea" stroke="#1d4aea" stroke-width="1"/><polygon points="382.3,172.8 388.4,172.8 385.4,177.9" fill="#1d49e9" stroke="#1d49e9" stroke-width="1"/><polygon points="388.4,172.8 385.4,177.9 391.4,177.9" fill="#1c47e8" stroke="#1c47e8" stroke-width="1"/><polygon points="388.4,172.8 394.5,172.8 391.4,177.9" fill="#1b47e8" stroke="#1b47e8" stroke-width="1"/><polygon points="394.5,172.8 391.4,177.9 397.5,177.9" fill="#1a45e7" stroke="#1a45e7" stroke-width="1"/><polygon points="394.5,172.8 400.5,172.8 397.5,177.9" fill="#1a44e7" stroke="#1a44e7" stroke-width="1"/><polygon points="400.5,172.8 397.5,177.9 403.6,177.9" fill="#1b48e8" stroke="#1b48e8" stroke-width="1"/><polygon points="400.5,172.8 406.6,172.8 403.6,177.9" fill="#1d4de9" stroke="#1d4de9" stroke-width="1"/><polygon points="406.6,172.8 403.6,177.9 409.7,177.9" fill="#1e50ea" stroke="#1e50ea" stroke-width="1"/><polygon points="406.6,172.8 412.7,172.8 409.7,177.9" fill="#2055ec" stroke="#2055ec" stroke-width="1"/><polygon points="412.7,172.8 409.7,177.9 415.7,177.9" fill="#2159ed" stroke="#2159ed" stroke-width="1"/><polygon points="412.7,172.8 418.8,172.8 415.7,177.9" fill="#235eee" stroke="#235eee" stroke-width="1"/><polygon points="418.8,172.8 415.7,177.9 421.8,177.9" fill="#2462ef" stroke="#2462ef" stroke-width="1"/><polygon points="418.8,172.8 424.8,172.8 421.8,177.9" fill="#2667f1" stroke="#2667f1" stroke-width="1"/><polygon points="424.8,172.8 421.8,177.9 427.9,177.9" fill="#276af2" stroke="#276af2" stroke-width="1"/><polygon points="424.8,172.8 430.9,172.8 427.9,177.9" fill="#286ff4" stroke="#286ff4" stroke-width="1"/><polygon points="430.9,172.8 427.9,177.9 434.0,177.9" fill="#2973f4" stroke="#2973f4" stroke-width="1"/><polygon points="430.9,172.8 437.0,172.8 434.0,177.9" fill="#2b78f6" stroke="#2b78f6" stroke-width="1"/><polygon points="437.0,172.8 434.0,177.9 440.0,177.9" fill="#2f7ef7" stroke="#2f7ef7" stroke-width="1"/><polygon points="355.0,177.9 351.9,183.1 358.0,183.1" fill="#1e4ad5" stroke="#1e4ad5" stroke-width="1"/><polygon points="355.0,177.9 361.0,177.9 358.0,183.1" fill="#1f4ddd" stroke="#1f4ddd" stroke-width="1"/><polygon points="361.0,177.9 358.0,183.1 364.1,183.1" fill="#1e4bdc" stroke="#1e4bdc" stroke-width="1"/><polygon points="361.0,177.9 367.1,177.9 364.1,183.1" fill="#1f4de4" stroke="#1f4de4" stroke-width="1"/><polygon points="367.1,177.9 364.1,183.1 370.2,183.1" fill="#1e4be3" stroke="#1e4be3" stroke-width="1"/><polygon points="367.1,177.9 373.2,177.9 370.2,183.1" fill="#1f4deb" stroke="#1f4deb" stroke-width="1"/><polygon points="373.2,177.9 370.2,183.1 376.2,183.1" fill="#1e4bea" stroke="#1e4bea" stroke-width="1"/><polygon points="373.2,177.9 379.3,177.9 376.2,183.1" fill="#1e4bea" stroke="#1e4bea" stroke-width="1"/><polygon points="379.3,177.9 376.2,183.1 382.3,183.1" fill="#1d49e9" stroke="#1d49e9" stroke-width="1"/><polygon points="379.3,177.9 385.4,177.9 382.3,183.1" fill="#1c48e9" stroke="#1c48e9" stroke-width="1"/><polygon points="385.4,177.9 382.3,183.1 388.4,183.1" fill="#1b46e8" stroke="#1b46e8" stroke-width="1"/><polygon points="385.4,177.9 391.4,177.9 388.4,183.1" fill="#1b46e7" stroke="#1b46e7" stroke-width="1"/><polygon points="391.4,177.9 388.4,183.1 394.5,183.1" fill="#1a44e6" stroke="#1a44e6" stroke-width="1"/><polygon points="391.4,177.9 397.5,177.9 394.5,183.1" fill="#1a43e6" stroke="#1a43e6" stroke-width="1"/><polygon points="397.5,177.9 394.5,183.1 400.6,183.1" fill="#1941e5" stroke="#1941e5" stroke-width="1"/><polygon points="397.5,177.9 403.6,177.9 400.6,183.1" fill="#1b46e7" stroke="#1b46e7" stroke-width="1"/><polygon points="403.6,177.9 400.6,183.1 406.6,183.1" fill="#1c4ae7" stroke="#1c4ae7" stroke-width="1"/><polygon points="403.6,177.9 409.7,177.9 406.6,183.1" fill="#1d4fe9" stroke="#1d4fe9" stroke-width="1"/><polygon points="409.7,177.9 406.6,183.1 412.7,183.1" fill="#1e53ea" stroke="#1e53ea" stroke-width="1"/><polygon points="409.7,177.9 415.7,177.9 412.7,183.1" fill="#2058ec" stroke="#2058ec" stroke-width="1"/><polygon points="415.7,177.9 412.7,183.1 418.8,183.1" fill="#215bed" stroke="#215bed" stroke-width="1"/><polygon points="415.7,177.9 421.8,177.9 418.8,183.1" fill="#2360ee" stroke="#2360ee" stroke-width="1"/><polygon points="421.8,177.9 418.8,183.1 424.9,183.1" fill="#2464ef" stroke="#2464ef" stroke-width="1"/><polygon points="421.8,177.9 427.9,177.9 424.9,183.1" fill="#2669f1" stroke="#2669f1" stroke-width="1"/><polygon points="427.9,177.9 424.9,183.1 430.9,183.1" fill="#296ff2" stroke="#296ff2" stroke-width="1"/><polygon points="427.9,177.9 434.0,177.9 430.9,183.1" fill="#2b74f4" stroke="#2b74f4" stroke-width="1"/><polygon points="434.0,177.9 430.9,183.1 437.0,183.1" fill="#2e7af5" stroke="#2e7af5" stroke-width="1"/><polygon points="434.0,177.9 440.0,177.9 437.0,183.1" fill="#307ff7" stroke="#307ff7" stroke-width="1"/><polygon points="440.0,177.9 437.0,183.1 443.1,183.1" fill="#3485f8" stroke="#3485f8" stroke-width="1"/><polygon points="351.9,183.1 348.9,188.2 355.0,188.2" fill="#1c44c3" stroke="#1c44c3" stroke-width="1"/><polygon points="351.9,183.1 358.0,183.1 355.0,188.2" fill="#1d46cb" stroke="#1d46cb" stroke-width="1"/><polygon points="358.0,183.1 355.0,188.2 361.1,188.2" fill="#1c44ca" stroke="#1c44ca" stroke-width="1"/><polygon points="358.0,183.1 364.1,183.1 361.1,188.2" fill="#1c46d2" stroke="#1c46d2" stroke-width="1"/><polygon points="364.1,183.1 361.1,188.2 367.1,188.2" fill="#1b44d1" stroke="#1b44d1" stroke-width="1"/><polygon points="364.1,183.1 370.2,183.1 367.1,188.2" fill="#1c47da" stroke="#1c47da" stroke-width="1"/><polygon points="370.2,183.1 367.1,188.2 373.2,188.2" fill="#1b45d8" stroke="#1b45d8" stroke-width="1"/><polygon points="370.2,183.1 376.2,183.1 373.2,188.2" fill="#1c47e1" stroke="#1c47e1" stroke-width="1"/><polygon points="376.2,183.1 373.2,188.2 379.3,188.2" fill="#1b45e0" stroke="#1b45e0" stroke-width="1"/><polygon points="376.2,183.1 382.3,183.1 379.3,188.2" fill="#1c48e8" stroke="#1c48e8" stroke-width="1"/><polygon points="382.3,183.1 379.3,188.2 385.4,188.2" fill="#1b46e7" stroke="#1b46e7" stroke-width="1"/><polygon points="382.3,183.1 388.4,183.1 385.4,188.2" fill="#1b45e7" stroke="#1b45e7" stroke-width="1"/><polygon points="388.4,183.1 385.4,188.2 391.4,188.2" fill="#1a43e5" stroke="#1a43e5" stroke-width="1"/><polygon points="388.4,183.1 394.5,183.1 391.4,188.2" fill="#1943e5" stroke="#1943e5" stroke-width="1"/><polygon points="394.5,183.1 391.4,188.2 397.5,188.2" fill="#1841e4" stroke="#1841e4" stroke-width="1"/><polygon points="394.5,183.1 400.6,183.1 397.5,188.2" fill="#1840e4" stroke="#1840e4" stroke-width="1"/><polygon points="400.6,183.1 397.5,188.2 403.6,188.2" fill="#1944e5" stroke="#1944e5" stroke-width="1"/><polygon points="400.6,183.1 406.6,183.1 403.6,188.2" fill="#1b49e6" stroke="#1b49e6" stroke-width="1"/><polygon points="406.6,183.1 403.6,188.2 409.7,188.2" fill="#1c4ce7" stroke="#1c4ce7" stroke-width="1"/><polygon points="406.6,183.1 412.7,183.1 409.7,188.2" fill="#1e51e9" stroke="#1e51e9" stroke-width="1"/><polygon points="412.7,183.1 409.7,188.2 415.8,188.2" fill="#1f55ea" stroke="#1f55ea" stroke-width="1"/><polygon points="412.7,183.1 418.8,183.1 415.8,188.2" fill="#215aec" stroke="#215aec" stroke-width="1"/><polygon points="418.8,183.1 415.8,188.2 421.8,188.2" fill="#2460ed" stroke="#2460ed" stroke-width="1"/><polygon points="418.8,183.1 424.9,183.1 421.8,188.2" fill="#2665ef" stroke="#2665ef" stroke-width="1"/><polygon points="424.9,183.1 421.8,188.2 427.9,188.2" fill="#296bf0" stroke="#296bf0" stroke-width="1"/><polygon points="424.9,183.1 430.9,183.1 427.9,188.2" fill="#2b70f1" stroke="#2b70f1" stroke-width="1"/><polygon points="430.9,183.1 427.9,188.2 434.0,188.2" fill="#2e76f3" stroke="#2e76f3" stroke-width="1"/><polygon points="430.9,183.1 437.0,183.1 434.0,188.2" fill="#307bf4" stroke="#307bf4" stroke-width="1"/><polygon points="437.0,183.1 434.0,188.2 440.1,188.2" fill="#3381f6" stroke="#3381f6" stroke-width="1"/><polygon points="437.0,183.1 443.1,183.1 440.1,188.2" fill="#3586f7" stroke="#3586f7" stroke-width="1"/><polygon points="443.1,183.1 440.1,188.2 446.1,188.2" fill="#398cf8" stroke="#398cf8" stroke-width="1"/><polygon points="348.9,188.2 345.9,193.4 352.0,193.4" fill="#193db1" stroke="#193db1" stroke-width="1"/><polygon points="348.9,188.2 355.0,188.2 352.0,193.4" fill="#1a3fb9" stroke="#1a3fb9" stroke-width="1"/><polygon points="355.0,188.2 352.0,193.4 358.0,193.4" fill="#193eb8" stroke="#193eb8" stroke-width="1"/><polygon points="355.0,188.2 361.1,188.2 358.0,193.4" fill="#1a40c1" stroke="#1a40c1" stroke-width="1"/><polygon points="361.1,188.2 358.0,193.4 364.1,193.4" fill="#193ebf" stroke="#193ebf" stroke-width="1"/><polygon points="361.1,188.2 367.1,188.2 364.1,193.4" fill="#1a40c8" stroke="#1a40c8" stroke-width="1"/><polygon points="367.1,188.2 364.1,193.4 370.2,193.4" fill="#193ec7" stroke="#193ec7" stroke-width="1"/><polygon points="367.1,188.2 373.2,188.2 370.2,193.4" fill="#1941cf" stroke="#1941cf" stroke-width="1"/><polygon points="373.2,188.2 370.2,193.4 376.3,193.4" fill="#183fce" stroke="#183fce" stroke-width="1"/><polygon points="373.2,188.2 379.3,188.2 376.3,193.4" fill="#1941d6" stroke="#1941d6" stroke-width="1"/><polygon points="379.3,188.2 376.3,193.4 382.3,193.4" fill="#183fd5" stroke="#183fd5" stroke-width="1"/><polygon points="379.3,188.2 385.4,188.2 382.3,193.4" fill="#1941dd" stroke="#1941dd" stroke-width="1"/><polygon points="385.4,188.2 382.3,193.4 388.4,193.4" fill="#183fdc" stroke="#183fdc" stroke-width="1"/><polygon points="385.4,188.2 391.4,188.2 388.4,193.4" fill="#1942e4" stroke="#1942e4" stroke-width="1"/><polygon points="391.4,188.2 388.4,193.4 394.5,193.4" fill="#1840e3" stroke="#1840e3" stroke-width="1"/><polygon points="391.4,188.2 397.5,188.2 394.5,193.4" fill="#183fe3" stroke="#183fe3" stroke-width="1"/><polygon points="397.5,188.2 394.5,193.4 400.6,193.4" fill="#173de2" stroke="#173de2" stroke-width="1"/><polygon points="397.5,188.2 403.6,188.2 400.6,193.4" fill="#1842e4" stroke="#1842e4" stroke-width="1"/><polygon points="403.6,188.2 400.6,193.4 406.6,193.4" fill="#1a46e5" stroke="#1a46e5" stroke-width="1"/><polygon points="403.6,188.2 409.7,188.2 406.6,193.4" fill="#1b4be6" stroke="#1b4be6" stroke-width="1"/><polygon points="409.7,188.2 406.6,193.4 412.7,193.4" fill="#1f51e7" stroke="#1f51e7" stroke-width="1"/><polygon points="409.7,188.2 415.8,188.2 412.7,193.4" fill="#2056e9" stroke="#2056e9" stroke-width="1"/><polygon points="415.8,188.2 412.7,193.4 418.8,193.4" fill="#245cea" stroke="#245cea" stroke-width="1"/><polygon points="415.8,188.2 421.8,188.2 418.8,193.4" fill="#2661ec" stroke="#2661ec" stroke-width="1"/><polygon points="421.8,188.2 418.8,193.4 424.9,193.4" fill="#2967ed" stroke="#2967ed" stroke-width="1"/><polygon points="421.8,188.2 427.9,188.2 424.9,193.4" fill="#2b6cef" stroke="#2b6cef" stroke-width="1"/><polygon points="427.9,188.2 424.9,193.4 431.0,193.4" fill="#2e72f0" stroke="#2e72f0" stroke-width="1"/><polygon points="427.9,188.2 434.0,188.2 431.0,193.4" fill="#3077f2" stroke="#3077f2" stroke-width="1"/><polygon points="434.0,188.2 431.0,193.4 437.0,193.4" fill="#337df3" stroke="#337df3" stroke-width="1"/><polygon points="434.0,188.2 440.1,188.2 437.0,193.4" fill="#3582f5" stroke="#3582f5" stroke-width="1"/><polygon points="440.1,188.2 437.0,193.4 443.1,193.4" fill="#3888f6" stroke="#3888f6" stroke-width="1"/><polygon points="440.1,188.2 446.1,188.2 443.1,193.4" fill="#3a8df8" stroke="#3a8df8" stroke-width="1"/><polygon points="446.1,188.2 443.1,193.4 449.2,193.4" fill="#3e93f9" stroke="#3e93f9" stroke-width="1"/><polygon points="345.9,193.4 342.8,198.5 348.9,198.5" fill="#16379f" stroke="#16379f" stroke-width="1"/><polygon points="345.9,193.4 352.0,193.4 348.9,198.5" fill="#1739a7" stroke="#1739a7" stroke-width="1"/><polygon points="352.0,193.4 348.9,198.5 355.0,198.5" fill="#1637a6" stroke="#1637a6" stroke-width="1"/><polygon points="352.0,193.4 358.0,193.4 355.0,198.5" fill="#1739af" stroke="#1739af" stroke-width="1"/><polygon points="358.0,193.4 355.0,198.5 361.1,198.5" fill="#1637ae" stroke="#1637ae" stroke-width="1"/><polygon points="358.0,193.4 364.1,193.4 361.1,198.5" fill="#173ab6" stroke="#173ab6" stroke-width="1"/><polygon points="364.1,193.4 361.1,198.5 367.2,198.5" fill="#1638b5" stroke="#1638b5" stroke-width="1"/><polygon points="364.1,193.4 370.2,193.4 367.2,198.5" fill="#173abd" stroke="#173abd" stroke-width="1"/><polygon points="370.2,193.4 367.2,198.5 373.2,198.5" fill="#1638bc" stroke="#1638bc" stroke-width="1"/><polygon points="370.2,193.4 376.3,193.4 373.2,198.5" fill="#173ac4" stroke="#173ac4" stroke-width="1"/><polygon points="376.3,193.4 373.2,198.5 379.3,198.5" fill="#1639c3" stroke="#1639c3" stroke-width="1"/><polygon points="376.3,193.4 382.3,193.4 379.3,198.5" fill="#163bcb" stroke="#163bcb" stroke-width="1"/><polygon points="382.3,193.4 379.3,198.5 385.4,198.5" fill="#1539ca" stroke="#1539ca" stroke-width="1"/><polygon points="382.3,193.4 388.4,193.4 385.4,198.5" fill="#163bd3" stroke="#163bd3" stroke-width="1"/><polygon points="388.4,193.4 385.4,198.5 391.5,198.5" fill="#1539d1" stroke="#1539d1" stroke-width="1"/><polygon points="388.4,193.4 394.5,193.4 391.5,198.5" fill="#163cda" stroke="#163cda" stroke-width="1"/><polygon points="394.5,193.4 391.5,198.5 397.5,198.5" fill="#153ad9" stroke="#153ad9" stroke-width="1"/><polygon points="394.5,193.4 400.6,193.4 397.5,198.5" fill="#163ce1" stroke="#163ce1" stroke-width="1"/><polygon points="400.6,193.4 397.5,198.5 403.6,198.5" fill="#1942e2" stroke="#1942e2" stroke-width="1"/><polygon points="400.6,193.4 406.6,193.4 403.6,198.5" fill="#1b47e4" stroke="#1b47e4" stroke-width="1"/><polygon points="406.6,193.4 403.6,198.5 409.7,198.5" fill="#1f4de5" stroke="#1f4de5" stroke-width="1"/><polygon points="406.6,193.4 412.7,193.4 409.7,198.5" fill="#2052e7" stroke="#2052e7" stroke-width="1"/><polygon points="412.7,193.4 409.7,198.5 415.8,198.5" fill="#2458e8" stroke="#2458e8" stroke-width="1"/><polygon points="412.7,193.4 418.8,193.4 415.8,198.5" fill="#255dea" stroke="#255dea" stroke-width="1"/><polygon points="418.8,193.4 415.8,198.5 421.8,198.5" fill="#2963eb" stroke="#2963eb" stroke-width="1"/><polygon points="418.8,193.4 424.9,193.4 421.8,198.5" fill="#2b68ed" stroke="#2b68ed" stroke-width="1"/><polygon points="424.9,193.4 421.8,198.5 427.9,198.5" fill="#2e6eee" stroke="#2e6eee" stroke-width="1"/><polygon points="424.9,193.4 431.0,193.4 427.9,198.5" fill="#3073f0" stroke="#3073f0" stroke-width="1"/><polygon points="431.0,193.4 427.9,198.5 434.0,198.5" fill="#3379f1" stroke="#3379f1" stroke-width="1"/><polygon points="431.0,193.4 437.0,193.4 434.0,198.5" fill="#357ef3" stroke="#357ef3" stroke-width="1"/><polygon points="437.0,193.4 434.0,198.5 440.1,198.5" fill="#3884f4" stroke="#3884f4" stroke-width="1"/><polygon points="437.0,193.4 443.1,193.4 440.1,198.5" fill="#3a89f5" stroke="#3a89f5" stroke-width="1"/><polygon points="443.1,193.4 440.1,198.5 446.2,198.5" fill="#3d8ff7" stroke="#3d8ff7" stroke-width="1"/><polygon points="443.1,193.4 449.2,193.4 446.2,198.5" fill="#3f94f8" stroke="#3f94f8" stroke-width="1"/><polygon points="449.2,193.4 446.2,198.5 452.2,198.5" fill="#439afa" stroke="#439afa" stroke-width="1"/><polygon points="342.8,198.5 339.8,203.7 345.9,203.7" fill="#14308d" stroke="#14308d" stroke-width="1"/><polygon points="342.8,198.5 348.9,198.5 345.9,203.7" fill="#153296" stroke="#153296" stroke-width="1"/><polygon points="348.9,198.5 345.9,203.7 352.0,203.7" fill="#143094" stroke="#143094" stroke-width="1"/><polygon points="348.9,198.5 355.0,198.5 352.0,203.7" fill="#14339d" stroke="#14339d" stroke-width="1"/><polygon points="355.0,198.5 352.0,203.7 358.0,203.7" fill="#13319c" stroke="#13319c" stroke-width="1"/><polygon points="355.0,198.5 361.1,198.5 358.0,203.7" fill="#1433a4" stroke="#1433a4" stroke-width="1"/><polygon points="361.1,198.5 358.0,203.7 364.1,203.7" fill="#1331a3" stroke="#1331a3" stroke-width="1"/><polygon points="361.1,198.5 367.2,198.5 364.1,203.7" fill="#1434ab" stroke="#1434ab" stroke-width="1"/><polygon points="367.2,198.5 364.1,203.7 370.2,203.7" fill="#1332aa" stroke="#1332aa" stroke-width="1"/><polygon points="367.2,198.5 373.2,198.5 370.2,203.7" fill="#1434b2" stroke="#1434b2" stroke-width="1"/><polygon points="373.2,198.5 370.2,203.7 376.3,203.7" fill="#1332b1" stroke="#1332b1" stroke-width="1"/><polygon points="373.2,198.5 379.3,198.5 376.3,203.7" fill="#1434ba" stroke="#1434ba" stroke-width="1"/><polygon points="379.3,198.5 376.3,203.7 382.4,203.7" fill="#1332b8" stroke="#1332b8" stroke-width="1"/><polygon points="379.3,198.5 385.4,198.5 382.4,203.7" fill="#1435c1" stroke="#1435c1" stroke-width="1"/><polygon points="385.4,198.5 382.4,203.7 388.4,203.7" fill="#1333c0" stroke="#1333c0" stroke-width="1"/><polygon points="385.4,198.5 391.5,198.5 388.4,203.7" fill="#1335c8" stroke="#1335c8" stroke-width="1"/><polygon points="391.5,198.5 388.4,203.7 394.5,203.7" fill="#1538d1" stroke="#1538d1" stroke-width="1"/><polygon points="391.5,198.5 397.5,198.5 394.5,203.7" fill="#153ad9" stroke="#153ad9" stroke-width="1"/><polygon points="397.5,198.5 394.5,203.7 400.6,203.7" fill="#163de2" stroke="#163de2" stroke-width="1"/><polygon points="397.5,198.5 403.6,198.5 400.6,203.7" fill="#1a42e3" stroke="#1a42e3" stroke-width="1"/><polygon points="403.6,198.5 400.6,203.7 406.7,203.7" fill="#1d48e4" stroke="#1d48e4" stroke-width="1"/><polygon points="403.6,198.5 409.7,198.5 406.7,203.7" fill="#204ee4" stroke="#204ee4" stroke-width="1"/><polygon points="409.7,198.5 406.7,203.7 412.7,203.7" fill="#2454e6" stroke="#2454e6" stroke-width="1"/><polygon points="409.7,198.5 415.8,198.5 412.7,203.7" fill="#2559e7" stroke="#2559e7" stroke-width="1"/><polygon points="415.8,198.5 412.7,203.7 418.8,203.7" fill="#295fe9" stroke="#295fe9" stroke-width="1"/><polygon points="415.8,198.5 421.8,198.5 418.8,203.7" fill="#2a64ea" stroke="#2a64ea" stroke-width="1"/><polygon points="421.8,198.5 418.8,203.7 424.9,203.7" fill="#2e6aeb" stroke="#2e6aeb" stroke-width="1"/><polygon points="421.8,198.5 427.9,198.5 424.9,203.7" fill="#306fed" stroke="#306fed" stroke-width="1"/><polygon points="427.9,198.5 424.9,203.7 431.0,203.7" fill="#3375ee" stroke="#3375ee" stroke-width="1"/><polygon points="427.9,198.5 434.0,198.5 431.0,203.7" fill="#357af0" stroke="#357af0" stroke-width="1"/><polygon points="434.0,198.5 431.0,203.7 437.0,203.7" fill="#3880f1" stroke="#3880f1" stroke-width="1"/><polygon points="434.0,198.5 440.1,198.5 437.0,203.7" fill="#3a85f3" stroke="#3a85f3" stroke-width="1"/><polygon points="440.1,198.5 437.0,203.7 443.1,203.7" fill="#3d8bf4" stroke="#3d8bf4" stroke-width="1"/><polygon points="440.1,198.5 446.2,198.5 443.1,203.7" fill="#3f90f6" stroke="#3f90f6" stroke-width="1"/><polygon points="446.2,198.5 443.1,203.7 449.2,203.7" fill="#4296f7" stroke="#4296f7" stroke-width="1"/><polygon points="446.2,198.5 452.2,198.5 449.2,203.7" fill="#449bf9" stroke="#449bf9" stroke-width="1"/><polygon points="452.2,198.5 449.2,203.7 455.3,203.7" fill="#48a1fa" stroke="#48a1fa" stroke-width="1"/><polygon points="339.8,203.7 336.8,208.9 342.9,208.9" fill="#112a7b" stroke="#112a7b" stroke-width="1"/><polygon points="339.8,203.7 345.9,203.7 342.9,208.9" fill="#122c84" stroke="#122c84" stroke-width="1"/><polygon points="345.9,203.7 342.9,208.9 348.9,208.9" fill="#112a83" stroke="#112a83" stroke-width="1"/><polygon points="345.9,203.7 352.0,203.7 348.9,208.9" fill="#122c8b" stroke="#122c8b" stroke-width="1"/><polygon points="352.0,203.7 348.9,208.9 355.0,208.9" fill="#112a8a" stroke="#112a8a" stroke-width="1"/><polygon points="352.0,203.7 358.0,203.7 355.0,208.9" fill="#122d92" stroke="#122d92" stroke-width="1"/><polygon points="358.0,203.7 355.0,208.9 361.1,208.9" fill="#112b91" stroke="#112b91" stroke-width="1"/><polygon points="358.0,203.7 364.1,203.7 361.1,208.9" fill="#112d99" stroke="#112d99" stroke-width="1"/><polygon points="364.1,203.7 361.1,208.9 367.2,208.9" fill="#102b98" stroke="#102b98" stroke-width="1"/><polygon points="364.1,203.7 370.2,203.7 367.2,208.9" fill="#112da1" stroke="#112da1" stroke-width="1"/><polygon points="370.2,203.7 367.2,208.9 373.2,208.9" fill="#102b9f" stroke="#102b9f" stroke-width="1"/><polygon points="370.2,203.7 376.3,203.7 373.2,208.9" fill="#112ea8" stroke="#112ea8" stroke-width="1"/><polygon points="376.3,203.7 373.2,208.9 379.3,208.9" fill="#102ca7" stroke="#102ca7" stroke-width="1"/><polygon points="376.3,203.7 382.4,203.7 379.3,208.9" fill="#112eaf" stroke="#112eaf" stroke-width="1"/><polygon points="382.4,203.7 379.3,208.9 385.4,208.9" fill="#1231b8" stroke="#1231b8" stroke-width="1"/><polygon points="382.4,203.7 388.4,203.7 385.4,208.9" fill="#1333c0" stroke="#1333c0" stroke-width="1"/><polygon points="388.4,203.7 385.4,208.9 391.5,208.9" fill="#1436c9" stroke="#1436c9" stroke-width="1"/><polygon points="388.4,203.7 394.5,203.7 391.5,208.9" fill="#1538d1" stroke="#1538d1" stroke-width="1"/><polygon points="394.5,203.7 391.5,208.9 397.6,208.9" fill="#163bda" stroke="#163bda" stroke-width="1"/><polygon points="394.5,203.7 400.6,203.7 397.6,208.9" fill="#173de2" stroke="#173de2" stroke-width="1"/><polygon points="400.6,203.7 397.6,208.9 403.6,208.9" fill="#1a43e3" stroke="#1a43e3" stroke-width="1"/><polygon points="400.6,203.7 406.7,203.7 403.6,208.9" fill="#1d49e4" stroke="#1d49e4" stroke-width="1"/><polygon points="406.7,203.7 403.6,208.9 409.7,208.9" fill="#214fe5" stroke="#214fe5" stroke-width="1"/><polygon points="406.7,203.7 412.7,203.7 409.7,208.9" fill="#2454e6" stroke="#2454e6" stroke-width="1"/><polygon points="412.7,203.7 409.7,208.9 415.8,208.9" fill="#275ae7" stroke="#275ae7" stroke-width="1"/><polygon points="412.7,203.7 418.8,203.7 415.8,208.9" fill="#2a60e8" stroke="#2a60e8" stroke-width="1"/><polygon points="418.8,203.7 415.8,208.9 421.9,208.9" fill="#2e66e9" stroke="#2e66e9" stroke-width="1"/><polygon points="418.8,203.7 424.9,203.7 421.9,208.9" fill="#2f6beb" stroke="#2f6beb" stroke-width="1"/><polygon points="424.9,203.7 421.9,208.9 427.9,208.9" fill="#3371ec" stroke="#3371ec" stroke-width="1"/><polygon points="424.9,203.7 431.0,203.7 427.9,208.9" fill="#3576ee" stroke="#3576ee" stroke-width="1"/><polygon points="431.0,203.7 427.9,208.9 434.0,208.9" fill="#387cef" stroke="#387cef" stroke-width="1"/><polygon points="431.0,203.7 437.0,203.7 434.0,208.9" fill="#3a81f1" stroke="#3a81f1" stroke-width="1"/><polygon points="437.0,203.7 434.0,208.9 440.1,208.9" fill="#3d87f2" stroke="#3d87f2" stroke-width="1"/><polygon points="437.0,203.7 443.1,203.7 440.1,208.9" fill="#3f8cf4" stroke="#3f8cf4" stroke-width="1"/><polygon points="443.1,203.7 440.1,208.9 446.2,208.9" fill="#4292f5" stroke="#4292f5" stroke-width="1"/><polygon points="443.1,203.7 449.2,203.7 446.2,208.9" fill="#4497f7" stroke="#4497f7" stroke-width="1"/><polygon points="449.2,203.7 446.2,208.9 452.2,208.9" fill="#479df8" stroke="#479df8" stroke-width="1"/><polygon points="449.2,203.7 455.3,203.7 452.2,208.9" fill="#49a2f9" stroke="#49a2f9" stroke-width="1"/><polygon points="455.3,203.7 452.2,208.9 458.3,208.9" fill="#4da8fb" stroke="#4da8fb" stroke-width="1"/><polygon points="336.8,208.9 333.8,214.0 339.8,214.0" fill="#0e236a" stroke="#0e236a" stroke-width="1"/><polygon points="336.8,208.9 342.9,208.9 339.8,214.0" fill="#0f2572" stroke="#0f2572" stroke-width="1"/><polygon points="342.9,208.9 339.8,214.0 345.9,214.0" fill="#0e2371" stroke="#0e2371" stroke-width="1"/><polygon points="342.9,208.9 348.9,208.9 345.9,214.0" fill="#0f2679" stroke="#0f2679" stroke-width="1"/><polygon points="348.9,208.9 345.9,214.0 352.0,214.0" fill="#0e2478" stroke="#0e2478" stroke-width="1"/><polygon points="348.9,208.9 355.0,208.9 352.0,214.0" fill="#0f2680" stroke="#0f2680" stroke-width="1"/><polygon points="355.0,208.9 352.0,214.0 358.1,214.0" fill="#0e247f" stroke="#0e247f" stroke-width="1"/><polygon points="355.0,208.9 361.1,208.9 358.1,214.0" fill="#0f2688" stroke="#0f2688" stroke-width="1"/><polygon points="361.1,208.9 358.1,214.0 364.1,214.0" fill="#0e2586" stroke="#0e2586" stroke-width="1"/><polygon points="361.1,208.9 367.2,208.9 364.1,214.0" fill="#0f278f" stroke="#0f278f" stroke-width="1"/><polygon points="367.2,208.9 364.1,214.0 370.2,214.0" fill="#0e258e" stroke="#0e258e" stroke-width="1"/><polygon points="367.2,208.9 373.2,208.9 370.2,214.0" fill="#0e2796" stroke="#0e2796" stroke-width="1"/><polygon points="373.2,208.9 370.2,214.0 376.3,214.0" fill="#0f2a9f" stroke="#0f2a9f" stroke-width="1"/><polygon points="373.2,208.9 379.3,208.9 376.3,214.0" fill="#102ca7" stroke="#102ca7" stroke-width="1"/><polygon points="379.3,208.9 376.3,214.0 382.4,214.0" fill="#112fb0" stroke="#112fb0" stroke-width="1"/><polygon points="379.3,208.9 385.4,208.9 382.4,214.0" fill="#1231b8" stroke="#1231b8" stroke-width="1"/><polygon points="385.4,208.9 382.4,214.0 388.4,214.0" fill="#1334c1" stroke="#1334c1" stroke-width="1"/><polygon points="385.4,208.9 391.5,208.9 388.4,214.0" fill="#1436c9" stroke="#1436c9" stroke-width="1"/><polygon points="391.5,208.9 388.4,214.0 394.5,214.0" fill="#1539d2" stroke="#1539d2" stroke-width="1"/><polygon points="391.5,208.9 397.6,208.9 394.5,214.0" fill="#163bda" stroke="#163bda" stroke-width="1"/><polygon points="397.6,208.9 394.5,214.0 400.6,214.0" fill="#173ee3" stroke="#173ee3" stroke-width="1"/><polygon points="397.6,208.9 403.6,208.9 400.6,214.0" fill="#1a44e4" stroke="#1a44e4" stroke-width="1"/><polygon points="403.6,208.9 400.6,214.0 406.7,214.0" fill="#1e49e5" stroke="#1e49e5" stroke-width="1"/><polygon points="403.6,208.9 409.7,208.9 406.7,214.0" fill="#214fe6" stroke="#214fe6" stroke-width="1"/><polygon points="409.7,208.9 406.7,214.0 412.8,214.0" fill="#2455e7" stroke="#2455e7" stroke-width="1"/><polygon points="409.7,208.9 415.8,208.9 412.8,214.0" fill="#275be8" stroke="#275be8" stroke-width="1"/><polygon points="415.8,208.9 412.8,214.0 418.8,214.0" fill="#2b61e9" stroke="#2b61e9" stroke-width="1"/><polygon points="415.8,208.9 421.9,208.9 418.8,214.0" fill="#2e66e9" stroke="#2e66e9" stroke-width="1"/><polygon points="421.9,208.9 418.8,214.0 424.9,214.0" fill="#316ceb" stroke="#316ceb" stroke-width="1"/><polygon points="421.9,208.9 427.9,208.9 424.9,214.0" fill="#3472eb" stroke="#3472eb" stroke-width="1"/><polygon points="427.9,208.9 424.9,214.0 431.0,214.0" fill="#3878ed" stroke="#3878ed" stroke-width="1"/><polygon points="427.9,208.9 434.0,208.9 431.0,214.0" fill="#3a7dee" stroke="#3a7dee" stroke-width="1"/><polygon points="434.0,208.9 431.0,214.0 437.1,214.0" fill="#3d83ef" stroke="#3d83ef" stroke-width="1"/><polygon points="434.0,208.9 440.1,208.9 437.1,214.0" fill="#3f88f1" stroke="#3f88f1" stroke-width="1"/><polygon points="440.1,208.9 437.1,214.0 443.1,214.0" fill="#428ef2" stroke="#428ef2" stroke-width="1"/><polygon points="440.1,208.9 446.2,208.9 443.1,214.0" fill="#4493f4" stroke="#4493f4" stroke-width="1"/><polygon points="446.2,208.9 443.1,214.0 449.2,214.0" fill="#4798f5" stroke="#4798f5" stroke-width="1"/><polygon points="446.2,208.9 452.2,208.9 449.2,214.0" fill="#499ef7" stroke="#499ef7" stroke-width="1"/><polygon points="452.2,208.9 449.2,214.0 455.3,214.0" fill="#4ca3f8" stroke="#4ca3f8" stroke-width="1"/><polygon points="452.2,208.9 458.3,208.9 455.3,214.0" fill="#4ea8fa" stroke="#4ea8fa" stroke-width="1"/><polygon points="458.3,208.9 455.3,214.0 461.4,214.0" fill="#52aefb" stroke="#52aefb" stroke-width="1"/><polygon points="333.8,214.0 330.7,219.2 336.8,219.2" fill="#0c1c58" stroke="#0c1c58" stroke-width="1"/><polygon points="333.8,214.0 339.8,214.0 336.8,219.2" fill="#0c1f60" stroke="#0c1f60" stroke-width="1"/><polygon points="339.8,214.0 336.8,219.2 342.9,219.2" fill="#0b1d5f" stroke="#0b1d5f" stroke-width="1"/><polygon points="339.8,214.0 345.9,214.0 342.9,219.2" fill="#0c1f67" stroke="#0c1f67" stroke-width="1"/><polygon points="345.9,214.0 342.9,219.2 349.0,219.2" fill="#0b1d66" stroke="#0b1d66" stroke-width="1"/><polygon points="345.9,214.0 352.0,214.0 349.0,219.2" fill="#0c206e" stroke="#0c206e" stroke-width="1"/><polygon points="352.0,214.0 349.0,219.2 355.0,219.2" fill="#0b1e6d" stroke="#0b1e6d" stroke-width="1"/><polygon points="352.0,214.0 358.1,214.0 355.0,219.2" fill="#0c2076" stroke="#0c2076" stroke-width="1"/><polygon points="358.1,214.0 355.0,219.2 361.1,219.2" fill="#0b1e74" stroke="#0b1e74" stroke-width="1"/><polygon points="358.1,214.0 364.1,214.0 361.1,219.2" fill="#0c207d" stroke="#0c207d" stroke-width="1"/><polygon points="364.1,214.0 361.1,219.2 367.2,219.2" fill="#0d2386" stroke="#0d2386" stroke-width="1"/><polygon points="364.1,214.0 370.2,214.0 367.2,219.2" fill="#0e258e" stroke="#0e258e" stroke-width="1"/><polygon points="370.2,214.0 367.2,219.2 373.3,219.2" fill="#0f2897" stroke="#0f2897" stroke-width="1"/><polygon points="370.2,214.0 376.3,214.0 373.3,219.2" fill="#102a9f" stroke="#102a9f" stroke-width="1"/><polygon points="376.3,214.0 373.3,219.2 379.3,219.2" fill="#112da8" stroke="#112da8" stroke-width="1"/><polygon points="376.3,214.0 382.4,214.0 379.3,219.2" fill="#122fb0" stroke="#122fb0" stroke-width="1"/><polygon points="382.4,214.0 379.3,219.2 385.4,219.2" fill="#1332b9" stroke="#1332b9" stroke-width="1"/><polygon points="382.4,214.0 388.4,214.0 385.4,219.2" fill="#1434c1" stroke="#1434c1" stroke-width="1"/><polygon points="388.4,214.0 385.4,219.2 391.5,219.2" fill="#1537ca" stroke="#1537ca" stroke-width="1"/><polygon points="388.4,214.0 394.5,214.0 391.5,219.2" fill="#1539d2" stroke="#1539d2" stroke-width="1"/><polygon points="394.5,214.0 391.5,219.2 397.6,219.2" fill="#173cdb" stroke="#173cdb" stroke-width="1"/><polygon points="394.5,214.0 400.6,214.0 397.6,219.2" fill="#173ee3" stroke="#173ee3" stroke-width="1"/><polygon points="400.6,214.0 397.6,219.2 403.6,219.2" fill="#1b44e4" stroke="#1b44e4" stroke-width="1"/><polygon points="400.6,214.0 406.7,214.0 403.6,219.2" fill="#1e4ae5" stroke="#1e4ae5" stroke-width="1"/><polygon points="406.7,214.0 403.6,219.2 409.7,219.2" fill="#2150e6" stroke="#2150e6" stroke-width="1"/><polygon points="406.7,214.0 412.8,214.0 409.7,219.2" fill="#2455e7" stroke="#2455e7" stroke-width="1"/><polygon points="412.8,214.0 409.7,219.2 415.8,219.2" fill="#285be8" stroke="#285be8" stroke-width="1"/><polygon points="412.8,214.0 418.8,214.0 415.8,219.2" fill="#2b61e9" stroke="#2b61e9" stroke-width="1"/><polygon points="418.8,214.0 415.8,219.2 421.9,219.2" fill="#2e67ea" stroke="#2e67ea" stroke-width="1"/><polygon points="418.8,214.0 424.9,214.0 421.9,219.2" fill="#326ceb" stroke="#326ceb" stroke-width="1"/><polygon points="424.9,214.0 421.9,219.2 428.0,219.2" fill="#3572ec" stroke="#3572ec" stroke-width="1"/><polygon points="424.9,214.0 431.0,214.0 428.0,219.2" fill="#3878ed" stroke="#3878ed" stroke-width="1"/><polygon points="431.0,214.0 428.0,219.2 434.0,219.2" fill="#3b7eee" stroke="#3b7eee" stroke-width="1"/><polygon points="431.0,214.0 437.1,214.0 434.0,219.2" fill="#3f84ef" stroke="#3f84ef" stroke-width="1"/><polygon points="437.1,214.0 434.0,219.2 440.1,219.2" fill="#428af0" stroke="#428af0" stroke-width="1"/><polygon points="437.1,214.0 443.1,214.0 440.1,219.2" fill="#448ef2" stroke="#448ef2" stroke-width="1"/><polygon points="443.1,214.0 440.1,219.2 446.2,219.2" fill="#4794f3" stroke="#4794f3" stroke-width="1"/><polygon points="443.1,214.0 449.2,214.0 446.2,219.2" fill="#4999f5" stroke="#4999f5" stroke-width="1"/><polygon points="449.2,214.0 446.2,219.2 452.3,219.2" fill="#4c9ff6" stroke="#4c9ff6" stroke-width="1"/><polygon points="449.2,214.0 455.3,214.0 452.3,219.2" fill="#4ea4f8" stroke="#4ea4f8" stroke-width="1"/><polygon points="455.3,214.0 452.3,219.2 458.3,219.2" fill="#51aaf9" stroke="#51aaf9" stroke-width="1"/><polygon points="455.3,214.0 461.4,214.0 458.3,219.2" fill="#53affb" stroke="#53affb" stroke-width="1"/><polygon points="461.4,214.0 458.3,219.2 464.4,219.2" fill="#57b5fc" stroke="#57b5fc" stroke-width="1"/><polygon points="330.7,219.2 327.7,224.3 333.8,224.3" fill="#091646" stroke="#091646" stroke-width="1"/><polygon points="330.7,219.2 336.8,219.2 333.8,224.3" fill="#0a184e" stroke="#0a184e" stroke-width="1"/><polygon points="336.8,219.2 333.8,224.3 339.8,224.3" fill="#09164d" stroke="#09164d" stroke-width="1"/><polygon points="336.8,219.2 342.9,219.2 339.8,224.3" fill="#0a1955" stroke="#0a1955" stroke-width="1"/><polygon points="342.9,219.2 339.8,224.3 345.9,224.3" fill="#091754" stroke="#091754" stroke-width="1"/><polygon points="342.9,219.2 349.0,219.2 345.9,224.3" fill="#09195d" stroke="#09195d" stroke-width="1"/><polygon points="349.0,219.2 345.9,224.3 352.0,224.3" fill="#08175b" stroke="#08175b" stroke-width="1"/><polygon points="349.0,219.2 355.0,219.2 352.0,224.3" fill="#091964" stroke="#091964" stroke-width="1"/><polygon points="355.0,219.2 352.0,224.3 358.1,224.3" fill="#0a1c6d" stroke="#0a1c6d" stroke-width="1"/><polygon points="355.0,219.2 361.1,219.2 358.1,224.3" fill="#0b1e75" stroke="#0b1e75" stroke-width="1"/><polygon points="361.1,219.2 358.1,224.3 364.2,224.3" fill="#0c217e" stroke="#0c217e" stroke-width="1"/><polygon points="361.1,219.2 367.2,219.2 364.2,224.3" fill="#0d2386" stroke="#0d2386" stroke-width="1"/><polygon points="367.2,219.2 364.2,224.3 370.2,224.3" fill="#0e268f" stroke="#0e268f" stroke-width="1"/><polygon points="367.2,219.2 373.3,219.2 370.2,224.3" fill="#0f2897" stroke="#0f2897" stroke-width="1"/><polygon points="373.3,219.2 370.2,224.3 376.3,224.3" fill="#102ba0" stroke="#102ba0" stroke-width="1"/><polygon points="373.3,219.2 379.3,219.2 376.3,224.3" fill="#112da8" stroke="#112da8" stroke-width="1"/><polygon points="379.3,219.2 376.3,224.3 382.4,224.3" fill="#1230b1" stroke="#1230b1" stroke-width="1"/><polygon points="379.3,219.2 385.4,219.2 382.4,224.3" fill="#1332b9" stroke="#1332b9" stroke-width="1"/><polygon points="385.4,219.2 382.4,224.3 388.5,224.3" fill="#1435c2" stroke="#1435c2" stroke-width="1"/><polygon points="385.4,219.2 391.5,219.2 388.5,224.3" fill="#1537ca" stroke="#1537ca" stroke-width="1"/><polygon points="391.5,219.2 388.5,224.3 394.5,224.3" fill="#163ad3" stroke="#163ad3" stroke-width="1"/><polygon points="391.5,219.2 397.6,219.2 394.5,224.3" fill="#173cdb" stroke="#173cdb" stroke-width="1"/><polygon points="397.6,219.2 394.5,224.3 400.6,224.3" fill="#183fe4" stroke="#183fe4" stroke-width="1"/><polygon points="397.6,219.2 403.6,219.2 400.6,224.3" fill="#1b45e5" stroke="#1b45e5" stroke-width="1"/><polygon points="403.6,219.2 400.6,224.3 406.7,224.3" fill="#1e4be6" stroke="#1e4be6" stroke-width="1"/><polygon points="403.6,219.2 409.7,219.2 406.7,224.3" fill="#2250e7" stroke="#2250e7" stroke-width="1"/><polygon points="409.7,219.2 406.7,224.3 412.8,224.3" fill="#2556e8" stroke="#2556e8" stroke-width="1"/><polygon points="409.7,219.2 415.8,219.2 412.8,224.3" fill="#285ce9" stroke="#285ce9" stroke-width="1"/><polygon points="415.8,219.2 412.8,224.3 418.8,224.3" fill="#2b62ea" stroke="#2b62ea" stroke-width="1"/><polygon points="415.8,219.2 421.9,219.2 418.8,224.3" fill="#2f67eb" stroke="#2f67eb" stroke-width="1"/><polygon points="421.9,219.2 418.8,224.3 424.9,224.3" fill="#326dec" stroke="#326dec" stroke-width="1"/><polygon points="421.9,219.2 428.0,219.2 424.9,224.3" fill="#3573ed" stroke="#3573ed" stroke-width="1"/><polygon points="428.0,219.2 424.9,224.3 431.0,224.3" fill="#3979ee" stroke="#3979ee" stroke-width="1"/><polygon points="428.0,219.2 434.0,219.2 431.0,224.3" fill="#3c7eee" stroke="#3c7eee" stroke-width="1"/><polygon points="434.0,219.2 431.0,224.3 437.1,224.3" fill="#3f84f0" stroke="#3f84f0" stroke-width="1"/><polygon points="434.0,219.2 440.1,219.2 437.1,224.3" fill="#428af0" stroke="#428af0" stroke-width="1"/><polygon points="440.1,219.2 437.1,224.3 443.2,224.3" fill="#4690f2" stroke="#4690f2" stroke-width="1"/><polygon points="440.1,219.2 446.2,219.2 443.2,224.3" fill="#4995f2" stroke="#4995f2" stroke-width="1"/><polygon points="446.2,219.2 443.2,224.3 449.2,224.3" fill="#4c9bf3" stroke="#4c9bf3" stroke-width="1"/><polygon points="446.2,219.2 452.3,219.2 449.2,224.3" fill="#4ea0f5" stroke="#4ea0f5" stroke-width="1"/><polygon points="452.3,219.2 449.2,224.3 455.3,224.3" fill="#51a6f6" stroke="#51a6f6" stroke-width="1"/><polygon points="452.3,219.2 458.3,219.2 455.3,224.3" fill="#53abf8" stroke="#53abf8" stroke-width="1"/><polygon points="458.3,219.2 455.3,224.3 461.4,224.3" fill="#56b1f9" stroke="#56b1f9" stroke-width="1"/><polygon points="458.3,219.2 464.4,219.2 461.4,224.3" fill="#58b6fb" stroke="#58b6fb" stroke-width="1"/><polygon points="464.4,219.2 461.4,224.3 467.5,224.3" fill="#5cbcfc" stroke="#5cbcfc" stroke-width="1"/><polygon points="327.7,224.3 324.7,229.5 330.7,229.5" fill="#060f34" stroke="#060f34" stroke-width="1"/><polygon points="327.7,224.3 333.8,224.3 330.7,229.5" fill="#07123c" stroke="#07123c" stroke-width="1"/><polygon points="333.8,224.3 330.7,229.5 336.8,229.5" fill="#06103b" stroke="#06103b" stroke-width="1"/><polygon points="333.8,224.3 339.8,224.3 336.8,229.5" fill="#071244" stroke="#071244" stroke-width="1"/><polygon points="339.8,224.3 336.8,229.5 342.9,229.5" fill="#061042" stroke="#061042" stroke-width="1"/><polygon points="339.8,224.3 345.9,224.3 342.9,229.5" fill="#07124b" stroke="#07124b" stroke-width="1"/><polygon points="345.9,224.3 342.9,229.5 349.0,229.5" fill="#081554" stroke="#081554" stroke-width="1"/><polygon points="345.9,224.3 352.0,224.3 349.0,229.5" fill="#09175c" stroke="#09175c" stroke-width="1"/><polygon points="352.0,224.3 349.0,229.5 355.0,229.5" fill="#0a1a65" stroke="#0a1a65" stroke-width="1"/><polygon points="352.0,224.3 358.1,224.3 355.0,229.5" fill="#0b1c6d" stroke="#0b1c6d" stroke-width="1"/><polygon points="358.1,224.3 355.0,229.5 361.1,229.5" fill="#0c1f76" stroke="#0c1f76" stroke-width="1"/><polygon points="358.1,224.3 364.2,224.3 361.1,229.5" fill="#0d217e" stroke="#0d217e" stroke-width="1"/><polygon points="364.2,224.3 361.1,229.5 367.2,229.5" fill="#0e2487" stroke="#0e2487" stroke-width="1"/><polygon points="364.2,224.3 370.2,224.3 367.2,229.5" fill="#0e268f" stroke="#0e268f" stroke-width="1"/><polygon points="370.2,224.3 367.2,229.5 373.3,229.5" fill="#102998" stroke="#102998" stroke-width="1"/><polygon points="370.2,224.3 376.3,224.3 373.3,229.5" fill="#102ba0" stroke="#102ba0" stroke-width="1"/><polygon points="376.3,224.3 373.3,229.5 379.4,229.5" fill="#112ea9" stroke="#112ea9" stroke-width="1"/><polygon points="376.3,224.3 382.4,224.3 379.4,229.5" fill="#1230b1" stroke="#1230b1" stroke-width="1"/><polygon points="382.4,224.3 379.4,229.5 385.4,229.5" fill="#1333ba" stroke="#1333ba" stroke-width="1"/><polygon points="382.4,224.3 388.5,224.3 385.4,229.5" fill="#1435c2" stroke="#1435c2" stroke-width="1"/><polygon points="388.5,224.3 385.4,229.5 391.5,229.5" fill="#1538cb" stroke="#1538cb" stroke-width="1"/><polygon points="388.5,224.3 394.5,224.3 391.5,229.5" fill="#163ad3" stroke="#163ad3" stroke-width="1"/><polygon points="394.5,224.3 391.5,229.5 397.6,229.5" fill="#173ddc" stroke="#173ddc" stroke-width="1"/><polygon points="394.5,224.3 400.6,224.3 397.6,229.5" fill="#183fe4" stroke="#183fe4" stroke-width="1"/><polygon points="400.6,224.3 397.6,229.5 403.7,229.5" fill="#1b45e6" stroke="#1b45e6" stroke-width="1"/><polygon points="400.6,224.3 406.7,224.3 403.7,229.5" fill="#1f4be6" stroke="#1f4be6" stroke-width="1"/><polygon points="406.7,224.3 403.7,229.5 409.7,229.5" fill="#2251e8" stroke="#2251e8" stroke-width="1"/><polygon points="406.7,224.3 412.8,224.3 409.7,229.5" fill="#2557e8" stroke="#2557e8" stroke-width="1"/><polygon points="412.8,224.3 409.7,229.5 415.8,229.5" fill="#295ce9" stroke="#295ce9" stroke-width="1"/><polygon points="412.8,224.3 418.8,224.3 415.8,229.5" fill="#2c62ea" stroke="#2c62ea" stroke-width="1"/><polygon points="418.8,224.3 415.8,229.5 421.9,229.5" fill="#2f68eb" stroke="#2f68eb" stroke-width="1"/><polygon points="418.8,224.3 424.9,224.3 421.9,229.5" fill="#326eec" stroke="#326eec" stroke-width="1"/><polygon points="424.9,224.3 421.9,229.5 428.0,229.5" fill="#3674ed" stroke="#3674ed" stroke-width="1"/><polygon points="424.9,224.3 431.0,224.3 428.0,229.5" fill="#3979ee" stroke="#3979ee" stroke-width="1"/><polygon points="431.0,224.3 428.0,229.5 434.0,229.5" fill="#3c7fef" stroke="#3c7fef" stroke-width="1"/><polygon points="431.0,224.3 437.1,224.3 434.0,229.5" fill="#3f85f0" stroke="#3f85f0" stroke-width="1"/><polygon points="437.1,224.3 434.0,229.5 440.1,229.5" fill="#438bf1" stroke="#438bf1" stroke-width="1"/><polygon points="437.1,224.3 443.2,224.3 440.1,229.5" fill="#4690f2" stroke="#4690f2" stroke-width="1"/><polygon points="443.2,224.3 440.1,229.5 446.2,229.5" fill="#4996f3" stroke="#4996f3" stroke-width="1"/><polygon points="443.2,224.3 449.2,224.3 446.2,229.5" fill="#4c9cf4" stroke="#4c9cf4" stroke-width="1"/><polygon points="449.2,224.3 446.2,229.5 452.3,229.5" fill="#50a2f5" stroke="#50a2f5" stroke-width="1"/><polygon points="449.2,224.3 455.3,224.3 452.3,229.5" fill="#53a7f6" stroke="#53a7f6" stroke-width="1"/><polygon points="455.3,224.3 452.3,229.5 458.4,229.5" fill="#56adf7" stroke="#56adf7" stroke-width="1"/><polygon points="455.3,224.3 461.4,224.3 458.4,229.5" fill="#58b2f9" stroke="#58b2f9" stroke-width="1"/><polygon points="461.4,224.3 458.4,229.5 464.4,229.5" fill="#5bb8fa" stroke="#5bb8fa" stroke-width="1"/><polygon points="461.4,224.3 467.5,224.3 464.4,229.5" fill="#5dbdfc" stroke="#5dbdfc" stroke-width="1"/><polygon points="467.5,224.3 464.4,229.5 470.5,229.5" fill="#61c3fd" stroke="#61c3fd" stroke-width="1"/><polygon points="324.7,229.5 321.6,234.6 327.7,234.6" fill="#040922" stroke="#040922" stroke-width="1"/><polygon points="324.7,229.5 330.7,229.5 327.7,234.6" fill="#040b2b" stroke="#040b2b" stroke-width="1"/><polygon points="330.7,229.5 327.7,234.6 333.8,234.6" fill="#030929" stroke="#030929" stroke-width="1"/><polygon points="330.7,229.5 336.8,229.5 333.8,234.6" fill="#040c32" stroke="#040c32" stroke-width="1"/><polygon points="336.8,229.5 333.8,234.6 339.9,234.6" fill="#050e3a" stroke="#050e3a" stroke-width="1"/><polygon points="336.8,229.5 342.9,229.5 339.9,234.6" fill="#061143" stroke="#061143" stroke-width="1"/><polygon points="342.9,229.5 339.9,234.6 345.9,234.6" fill="#07134c" stroke="#07134c" stroke-width="1"/><polygon points="342.9,229.5 349.0,229.5 345.9,234.6" fill="#081654" stroke="#081654" stroke-width="1"/><polygon points="349.0,229.5 345.9,234.6 352.0,234.6" fill="#09185d" stroke="#09185d" stroke-width="1"/><polygon points="349.0,229.5 355.0,229.5 352.0,234.6" fill="#0a1b65" stroke="#0a1b65" stroke-width="1"/><polygon points="355.0,229.5 352.0,234.6 358.1,234.6" fill="#0b1d6e" stroke="#0b1d6e" stroke-width="1"/><polygon points="355.0,229.5 361.1,229.5 358.1,234.6" fill="#0c2076" stroke="#0c2076" stroke-width="1"/><polygon points="361.1,229.5 358.1,234.6 364.2,234.6" fill="#0d227f" stroke="#0d227f" stroke-width="1"/><polygon points="361.1,229.5 367.2,229.5 364.2,234.6" fill="#0e2587" stroke="#0e2587" stroke-width="1"/><polygon points="367.2,229.5 364.2,234.6 370.2,234.6" fill="#0f2790" stroke="#0f2790" stroke-width="1"/><polygon points="367.2,229.5 373.3,229.5 370.2,234.6" fill="#102a98" stroke="#102a98" stroke-width="1"/><polygon points="373.3,229.5 370.2,234.6 376.3,234.6" fill="#112ca1" stroke="#112ca1" stroke-width="1"/><polygon points="373.3,229.5 379.4,229.5 376.3,234.6" fill="#122fa9" stroke="#122fa9" stroke-width="1"/><polygon points="379.4,229.5 376.3,234.6 382.4,234.6" fill="#1331b2" stroke="#1331b2" stroke-width="1"/><polygon points="379.4,229.5 385.4,229.5 382.4,234.6" fill="#1434ba" stroke="#1434ba" stroke-width="1"/><polygon points="385.4,229.5 382.4,234.6 388.5,234.6" fill="#1536c3" stroke="#1536c3" stroke-width="1"/><polygon points="385.4,229.5 391.5,229.5 388.5,234.6" fill="#1639cb" stroke="#1639cb" stroke-width="1"/><polygon points="391.5,229.5 388.5,234.6 394.6,234.6" fill="#173bd4" stroke="#173bd4" stroke-width="1"/><polygon points="391.5,229.5 397.6,229.5 394.6,234.6" fill="#173edd" stroke="#173edd" stroke-width="1"/><polygon points="397.6,229.5 394.6,234.6 400.6,234.6" fill="#1940e5" stroke="#1940e5" stroke-width="1"/><polygon points="397.6,229.5 403.7,229.5 400.6,234.6" fill="#1c46e6" stroke="#1c46e6" stroke-width="1"/><polygon points="403.7,229.5 400.6,234.6 406.7,234.6" fill="#1f4ce7" stroke="#1f4ce7" stroke-width="1"/><polygon points="403.7,229.5 409.7,229.5 406.7,234.6" fill="#2251e8" stroke="#2251e8" stroke-width="1"/><polygon points="409.7,229.5 406.7,234.6 412.8,234.6" fill="#2657e9" stroke="#2657e9" stroke-width="1"/><polygon points="409.7,229.5 415.8,229.5 412.8,234.6" fill="#295dea" stroke="#295dea" stroke-width="1"/><polygon points="415.8,229.5 412.8,234.6 418.9,234.6" fill="#2c63eb" stroke="#2c63eb" stroke-width="1"/><polygon points="415.8,229.5 421.9,229.5 418.9,234.6" fill="#2f68ec" stroke="#2f68ec" stroke-width="1"/><polygon points="421.9,229.5 418.9,234.6 424.9,234.6" fill="#336eed" stroke="#336eed" stroke-width="1"/><polygon points="421.9,229.5 428.0,229.5 424.9,234.6" fill="#3674ee" stroke="#3674ee" stroke-width="1"/><polygon points="428.0,229.5 424.9,234.6 431.0,234.6" fill="#397aef" stroke="#397aef" stroke-width="1"/><polygon points="428.0,229.5 434.0,229.5 431.0,234.6" fill="#3c7ff0" stroke="#3c7ff0" stroke-width="1"/><polygon points="434.0,229.5 431.0,234.6 437.1,234.6" fill="#4085f1" stroke="#4085f1" stroke-width="1"/><polygon points="434.0,229.5 440.1,229.5 437.1,234.6" fill="#438bf2" stroke="#438bf2" stroke-width="1"/><polygon points="440.1,229.5 437.1,234.6 443.2,234.6" fill="#4691f3" stroke="#4691f3" stroke-width="1"/><polygon points="440.1,229.5 446.2,229.5 443.2,234.6" fill="#4997f3" stroke="#4997f3" stroke-width="1"/><polygon points="446.2,229.5 443.2,234.6 449.2,234.6" fill="#4d9df5" stroke="#4d9df5" stroke-width="1"/><polygon points="446.2,229.5 452.3,229.5 449.2,234.6" fill="#50a2f5" stroke="#50a2f5" stroke-width="1"/><polygon points="452.3,229.5 449.2,234.6 455.3,234.6" fill="#53a8f7" stroke="#53a8f7" stroke-width="1"/><polygon points="452.3,229.5 458.4,229.5 455.3,234.6" fill="#57aef7" stroke="#57aef7" stroke-width="1"/><polygon points="458.4,229.5 455.3,234.6 461.4,234.6" fill="#5ab4f8" stroke="#5ab4f8" stroke-width="1"/><polygon points="458.4,229.5 464.4,229.5 461.4,234.6" fill="#5db9f9" stroke="#5db9f9" stroke-width="1"/><polygon points="464.4,229.5 461.4,234.6 467.5,234.6" fill="#60bffa" stroke="#60bffa" stroke-width="1"/><polygon points="464.4,229.5 470.5,229.5 467.5,234.6" fill="#62c4fc" stroke="#62c4fc" stroke-width="1"/><polygon points="470.5,229.5 467.5,234.6 473.6,234.6" fill="#66cafd" stroke="#66cafd" stroke-width="1"/><polygon points="321.6,234.6 318.6,239.8 324.7,239.8" fill="#010210" stroke="#010210" stroke-width="1"/><polygon points="321.6,234.6 327.7,234.6 324.7,239.8" fill="#020519" stroke="#020519" stroke-width="1"/><polygon points="327.7,234.6 324.7,239.8 330.8,239.8" fill="#030721" stroke="#030721" stroke-width="1"/><polygon points="327.7,234.6 333.8,234.6 330.8,239.8" fill="#040a2a" stroke="#040a2a" stroke-width="1"/><polygon points="333.8,234.6 330.8,239.8 336.8,239.8" fill="#050c32" stroke="#050c32" stroke-width="1"/><polygon points="333.8,234.6 339.9,234.6 336.8,239.8" fill="#060f3b" stroke="#060f3b" stroke-width="1"/><polygon points="339.9,234.6 336.8,239.8 342.9,239.8" fill="#071144" stroke="#071144" stroke-width="1"/><polygon points="339.9,234.6 345.9,234.6 342.9,239.8" fill="#07144c" stroke="#07144c" stroke-width="1"/><polygon points="345.9,234.6 342.9,239.8 349.0,239.8" fill="#091655" stroke="#091655" stroke-width="1"/><polygon points="345.9,234.6 352.0,234.6 349.0,239.8" fill="#09195d" stroke="#09195d" stroke-width="1"/><polygon points="352.0,234.6 349.0,239.8 355.1,239.8" fill="#0a1b66" stroke="#0a1b66" stroke-width="1"/><polygon points="352.0,234.6 358.1,234.6 355.1,239.8" fill="#0b1e6e" stroke="#0b1e6e" stroke-width="1"/><polygon points="358.1,234.6 355.1,239.8 361.1,239.8" fill="#0c2077" stroke="#0c2077" stroke-width="1"/><polygon points="358.1,234.6 364.2,234.6 361.1,239.8" fill="#0d237f" stroke="#0d237f" stroke-width="1"/><polygon points="364.2,234.6 361.1,239.8 367.2,239.8" fill="#0e2588" stroke="#0e2588" stroke-width="1"/><polygon points="364.2,234.6 370.2,234.6 367.2,239.8" fill="#0f2890" stroke="#0f2890" stroke-width="1"/><polygon points="370.2,234.6 367.2,239.8 373.3,239.8" fill="#102a99" stroke="#102a99" stroke-width="1"/><polygon points="370.2,234.6 376.3,234.6 373.3,239.8" fill="#112da1" stroke="#112da1" stroke-width="1"/><polygon points="376.3,234.6 373.3,239.8 379.4,239.8" fill="#122faa" stroke="#122faa" stroke-width="1"/><polygon points="376.3,234.6 382.4,234.6 379.4,239.8" fill="#1332b2" stroke="#1332b2" stroke-width="1"/><polygon points="382.4,234.6 379.4,239.8 385.4,239.8" fill="#1434bb" stroke="#1434bb" stroke-width="1"/><polygon points="382.4,234.6 388.5,234.6 385.4,239.8" fill="#1537c3" stroke="#1537c3" stroke-width="1"/><polygon points="388.5,234.6 385.4,239.8 391.5,239.8" fill="#1639cc" stroke="#1639cc" stroke-width="1"/><polygon points="388.5,234.6 394.6,234.6 391.5,239.8" fill="#173cd5" stroke="#173cd5" stroke-width="1"/><polygon points="394.6,234.6 391.5,239.8 397.6,239.8" fill="#183edd" stroke="#183edd" stroke-width="1"/><polygon points="394.6,234.6 400.6,234.6 397.6,239.8" fill="#1941e6" stroke="#1941e6" stroke-width="1"/><polygon points="400.6,234.6 397.6,239.8 403.7,239.8" fill="#1c47e7" stroke="#1c47e7" stroke-width="1"/><polygon points="400.6,234.6 406.7,234.6 403.7,239.8" fill="#1f4ce8" stroke="#1f4ce8" stroke-width="1"/><polygon points="406.7,234.6 403.7,239.8 409.8,239.8" fill="#2352e9" stroke="#2352e9" stroke-width="1"/><polygon points="406.7,234.6 412.8,234.6 409.8,239.8" fill="#2658e9" stroke="#2658e9" stroke-width="1"/><polygon points="412.8,234.6 409.8,239.8 415.8,239.8" fill="#295eeb" stroke="#295eeb" stroke-width="1"/><polygon points="412.8,234.6 418.9,234.6 415.8,239.8" fill="#2c63eb" stroke="#2c63eb" stroke-width="1"/><polygon points="418.9,234.6 415.8,239.8 421.9,239.8" fill="#3069ed" stroke="#3069ed" stroke-width="1"/><polygon points="418.9,234.6 424.9,234.6 421.9,239.8" fill="#336fed" stroke="#336fed" stroke-width="1"/><polygon points="424.9,234.6 421.9,239.8 428.0,239.8" fill="#3675ee" stroke="#3675ee" stroke-width="1"/><polygon points="424.9,234.6 431.0,234.6 428.0,239.8" fill="#397aef" stroke="#397aef" stroke-width="1"/><polygon points="431.0,234.6 428.0,239.8 434.1,239.8" fill="#3d80f0" stroke="#3d80f0" stroke-width="1"/><polygon points="431.0,234.6 437.1,234.6 434.1,239.8" fill="#4086f1" stroke="#4086f1" stroke-width="1"/><polygon points="437.1,234.6 434.1,239.8 440.1,239.8" fill="#438cf2" stroke="#438cf2" stroke-width="1"/><polygon points="437.1,234.6 443.2,234.6 440.1,239.8" fill="#4791f3" stroke="#4791f3" stroke-width="1"/><polygon points="443.2,234.6 440.1,239.8 446.2,239.8" fill="#4a97f4" stroke="#4a97f4" stroke-width="1"/><polygon points="443.2,234.6 449.2,234.6 446.2,239.8" fill="#4d9df5" stroke="#4d9df5" stroke-width="1"/><polygon points="449.2,234.6 446.2,239.8 452.3,239.8" fill="#50a3f6" stroke="#50a3f6" stroke-width="1"/><polygon points="449.2,234.6 455.3,234.6 452.3,239.8" fill="#54a8f7" stroke="#54a8f7" stroke-width="1"/><polygon points="455.3,234.6 452.3,239.8 458.4,239.8" fill="#57aef8" stroke="#57aef8" stroke-width="1"/><polygon points="455.3,234.6 461.4,234.6 458.4,239.8" fill="#5ab4f9" stroke="#5ab4f9" stroke-width="1"/><polygon points="461.4,234.6 458.4,239.8 464.4,239.8" fill="#5ebafa" stroke="#5ebafa" stroke-width="1"/><polygon points="461.4,234.6 467.5,234.6 464.4,239.8" fill="#61c0fb" stroke="#61c0fb" stroke-width="1"/><polygon points="467.5,234.6 464.4,239.8 470.5,239.8" fill="#64c6fc" stroke="#64c6fc" stroke-width="1"/><polygon points="467.5,234.6 473.6,234.6 470.5,239.8" fill="#67cbfd" stroke="#67cbfd" stroke-width="1"/><polygon points="473.6,234.6 470.5,239.8 476.6,239.8" fill="#6bd1fe" stroke="#6bd1fe" stroke-width="1"/></g>
<circle cx="316.5" cy="239.5" r="5.5" fill="#0a0a78"/>
<circle cx="396.6" cy="109.4" r="5.5" fill="#0a14dd"/>
<circle cx="475" cy="239.7" r="5.5" fill="#14eaff"/>
<rect x="342.20" y="145.80" width="33.50" height="19.00" fill="#1230e6" />
<text x="350.22" y="159.80" font-size="12.6" fill="#fff" textLength="17.52" lengthAdjust="spacingAndGlyphs" >0.9</text>
<rect x="421.70" y="145.20" width="34.30" height="18.90" fill="#1230e6" />
<text x="430.03" y="159.10" font-size="12.6" fill="#fff" textLength="17.52" lengthAdjust="spacingAndGlyphs" >6.8</text>
<rect x="381.50" y="156.80" width="33.30" height="19.20" fill="#1230e0" />
<text x="389.39" y="171.00" font-size="12.6" fill="#fff" textLength="17.52" lengthAdjust="spacingAndGlyphs" >3.3</text>
<rect x="327.30" y="180.20" width="34.10" height="18.50" fill="#0a0a70" />
<text x="335.66" y="193.70" font-size="12.6" fill="#fff" textLength="17.52" lengthAdjust="spacingAndGlyphs" >0.7</text>
<rect x="381.50" y="180.20" width="33.30" height="19.60" fill="#0a0a70" />
<text x="389.39" y="194.80" font-size="12.6" fill="#fff" textLength="17.52" lengthAdjust="spacingAndGlyphs" >2.7</text>
<rect x="434.40" y="179.80" width="34.10" height="19.40" fill="#66eeee" />
<text x="442.85" y="194.20" font-size="12.6" fill="#003333" textLength="17.52" lengthAdjust="spacingAndGlyphs" >4.1</text>
<rect x="381.20" y="204.10" width="34.00" height="19.80" fill="#66eeee" />
<text x="389.35" y="218.90" font-size="12.6" fill="#003333" textLength="17.52" lengthAdjust="spacingAndGlyphs" >2.0</text>
<rect x="358.90" y="228.70" width="35.10" height="20.10" fill="#0a0a70" />
<text x="367.69" y="243.80" font-size="12.6" fill="#fff" textLength="17.52" lengthAdjust="spacingAndGlyphs" >2.2</text>
<rect x="403.50" y="229.60" width="34.40" height="19.80" fill="#66eeee" />
<text x="411.97" y="244.40" font-size="12.6" fill="#003333" textLength="17.52" lengthAdjust="spacingAndGlyphs" >0.9</text>
<line x1="176.60" y1="539.30" x2="184.70" y2="507.20" stroke="#111" stroke-width="1.7" />
<line x1="176.60" y1="539.30" x2="152.40" y2="517.70" stroke="#111" stroke-width="1.7" />
<line x1="176.60" y1="539.30" x2="134.20" y2="526.30" stroke="#111" stroke-width="1.7" />
<line x1="176.60" y1="539.30" x2="123.10" y2="541.60" stroke="#111" stroke-width="1.7" />
<line x1="123.10" y1="541.60" x2="105.00" y2="536.80" stroke="#111" stroke-width="1.7" />
<line x1="123.10" y1="541.60" x2="105.50" y2="548.30" stroke="#111" stroke-width="1.7" />
<line x1="176.60" y1="539.30" x2="166.10" y2="559.20" stroke="#111" stroke-width="1.7" />
<line x1="166.10" y1="559.20" x2="175.70" y2="574.00" stroke="#111" stroke-width="1.7" />
<line x1="166.10" y1="559.20" x2="148.90" y2="566.40" stroke="#111" stroke-width="1.7" />
<line x1="148.90" y1="566.40" x2="132.70" y2="564.50" stroke="#111" stroke-width="1.7" />
<line x1="148.90" y1="566.40" x2="142.20" y2="571.20" stroke="#111" stroke-width="1.7" />
<line x1="176.60" y1="539.30" x2="191.00" y2="545.40" stroke="#111" stroke-width="1.7" />
<line x1="199.60" y1="542.60" x2="217.40" y2="521.50" stroke="#111" stroke-width="1.7" />
<line x1="200.60" y1="544.50" x2="217.80" y2="533.00" stroke="#111" stroke-width="1.7" />
<line x1="204.40" y1="552.10" x2="227.00" y2="544.00" stroke="#111" stroke-width="1.7" />
<line x1="204.40" y1="552.10" x2="214.90" y2="556.00" stroke="#111" stroke-width="1.7" />
<line x1="214.90" y1="556.00" x2="224.00" y2="555.00" stroke="#111" stroke-width="1.7" />
<line x1="214.90" y1="556.00" x2="216.40" y2="564.50" stroke="#111" stroke-width="1.7" />
<rect x="147.8" y="498.1" width="79.3" height="8.8" rx="4.4" fill="#f4a040"/>
<text x="158.01" y="504.90" font-size="6.6" fill="#2a1400" textLength="63.21" lengthAdjust="spacingAndGlyphs" >Other bacterial groups</text>
<rect x="93.4" y="509.2" width="80.2" height="8.6" rx="4.3" fill="#dcf50a"/>
<text x="104.49" y="515.90" font-size="6.6" fill="#1a1a00" textLength="40.54" lengthAdjust="spacingAndGlyphs" >Cyanobacteria</text>
<rect x="81.7" y="520.2" width="53.3" height="9.0" rx="4.5" fill="#8c64f5"/>
<text x="91.81" y="527.10" font-size="6.6" fill="#f0e8ff" textLength="37.43" lengthAdjust="spacingAndGlyphs" >Spirochaetes</text>
<rect x="50.5" y="533.0" width="54.5" height="9.0" rx="4.5" fill="#3ce628"/>
<text x="61.60" y="539.90" font-size="6.6" fill="#0a2000" textLength="39.41" lengthAdjust="spacingAndGlyphs" >Actinobacteria</text>
<rect x="62.0" y="544.0" width="43.5" height="9.0" rx="4.5" fill="#64f01e"/>
<text x="70.59" y="550.90" font-size="6.6" fill="#0a2000" textLength="29.65" lengthAdjust="spacingAndGlyphs" >Firmicutes</text>
<rect x="83.0" y="560.4" width="50.0" height="8.5" rx="4.2" fill="#ee1e32"/>
<text x="93.20" y="567.05" font-size="6.6" fill="#5a0000" textLength="37.12" lengthAdjust="spacingAndGlyphs" >Euryarcheota</text>
<rect x="92.0" y="572.0" width="56.1" height="8.9" rx="4.4" fill="#f0402e"/>
<text x="102.28" y="578.85" font-size="6.6" fill="#5a0000" textLength="41.92" lengthAdjust="spacingAndGlyphs" >Crenarchaeota</text>
<rect x="151.7" y="575.5" width="56.2" height="8.4" rx="4.2" fill="#b41a40"/>
<text x="161.89" y="582.10" font-size="6.6" fill="#ffeef0" textLength="40.13" lengthAdjust="spacingAndGlyphs" >Nanoarcheota</text>
<rect x="217.4" y="516.2" width="79.1" height="8.8" rx="4.4" fill="#0c0c80"/>
<text x="228.00" y="523.00" font-size="6.6" fill="#ffffff" textLength="56.71" lengthAdjust="spacingAndGlyphs" >Alphaproteobacteria</text>
<rect x="217.8" y="527.8" width="79.2" height="8.6" rx="4.3" fill="#0a2ee6"/>
<text x="228.39" y="534.50" font-size="6.6" fill="#ffffff" textLength="53.51" lengthAdjust="spacingAndGlyphs" >Betaproteobacteria</text>
<rect x="227.0" y="540.0" width="79.3" height="8.3" rx="4.1" fill="#50b4ee"/>
<text x="237.69" y="546.55" font-size="6.6" fill="#e0f4ff" textLength="61.91" lengthAdjust="spacingAndGlyphs" >Gammaproteobacteria</text>
<rect x="224.0" y="551.2" width="79.4" height="8.5" rx="4.2" fill="#55eefc"/>
<text x="234.99" y="557.85" font-size="6.6" fill="#003030" textLength="55.12" lengthAdjust="spacingAndGlyphs" >Deltaproteobacteria</text>
<rect x="216.4" y="563.0" width="79.3" height="8.8" rx="4.4" fill="#bcf6f0"/>
<text x="226.69" y="569.80" font-size="6.6" fill="#003030" textLength="61.33" lengthAdjust="spacingAndGlyphs" >Epsilonproteobacteria</text>
<clipPath id="tc239"><polygon points="195.2,537.6 185.8,553.8 204.6,553.8"/></clipPath>
<g clip-path="url(#tc239)" shape-rendering="crispEdges"><polygon points="195.2,537.6 194.0,539.6 196.4,539.6" fill="#265bf7" stroke="#265bf7" stroke-width="1"/><polygon points="194.0,539.6 192.8,541.7 195.2,541.7" fill="#2458f4" stroke="#2458f4" stroke-width="1"/><polygon points="194.0,539.6 196.4,539.6 195.2,541.7" fill="#2456f4" stroke="#2456f4" stroke-width="1"/><polygon points="196.4,539.6 195.2,541.7 197.5,541.7" fill="#2762f6" stroke="#2762f6" stroke-width="1"/><polygon points="192.8,541.7 191.7,543.7 194.0,543.7" fill="#2356f2" stroke="#2356f2" stroke-width="1"/><polygon points="192.8,541.7 195.2,541.7 194.0,543.7" fill="#2254f1" stroke="#2254f1" stroke-width="1"/><polygon points="195.2,541.7 194.0,543.7 196.4,543.7" fill="#1f4eee" stroke="#1f4eee" stroke-width="1"/><polygon points="195.2,541.7 197.5,541.7 196.4,543.7" fill="#255ef3" stroke="#255ef3" stroke-width="1"/><polygon points="197.5,541.7 196.4,543.7 198.7,543.7" fill="#286af6" stroke="#286af6" stroke-width="1"/><polygon points="191.7,543.7 190.5,545.7 192.8,545.7" fill="#2253ef" stroke="#2253ef" stroke-width="1"/><polygon points="191.7,543.7 194.0,543.7 192.8,545.7" fill="#2151ef" stroke="#2151ef" stroke-width="1"/><polygon points="194.0,543.7 192.8,545.7 195.2,545.7" fill="#1e4beb" stroke="#1e4beb" stroke-width="1"/><polygon points="194.0,543.7 196.4,543.7 195.2,545.7" fill="#1d49ea" stroke="#1d49ea" stroke-width="1"/><polygon points="196.4,543.7 195.2,545.7 197.5,545.7" fill="#2055ed" stroke="#2055ed" stroke-width="1"/><polygon points="196.4,543.7 198.7,543.7 197.5,545.7" fill="#2665f3" stroke="#2665f3" stroke-width="1"/><polygon points="198.7,543.7 197.5,545.7 199.9,545.7" fill="#2a71f5" stroke="#2a71f5" stroke-width="1"/><polygon points="190.5,545.7 189.3,547.7 191.7,547.7" fill="#1d47d1" stroke="#1d47d1" stroke-width="1"/><polygon points="190.5,545.7 192.8,545.7 191.7,547.7" fill="#204fec" stroke="#204fec" stroke-width="1"/><polygon points="192.8,545.7 191.7,547.7 194.0,547.7" fill="#1c48e8" stroke="#1c48e8" stroke-width="1"/><polygon points="192.8,545.7 195.2,545.7 194.0,547.7" fill="#1c47e8" stroke="#1c47e8" stroke-width="1"/><polygon points="195.2,545.7 194.0,547.7 196.4,547.7" fill="#1840e4" stroke="#1840e4" stroke-width="1"/><polygon points="195.2,545.7 197.5,545.7 196.4,547.7" fill="#1e51ea" stroke="#1e51ea" stroke-width="1"/><polygon points="197.5,545.7 196.4,547.7 198.7,547.7" fill="#225cec" stroke="#225cec" stroke-width="1"/><polygon points="197.5,545.7 199.9,545.7 198.7,547.7" fill="#276df2" stroke="#276df2" stroke-width="1"/><polygon points="199.9,545.7 198.7,547.7 201.1,547.7" fill="#3280f6" stroke="#3280f6" stroke-width="1"/><polygon points="189.3,547.7 188.2,549.8 190.5,549.8" fill="#143297" stroke="#143297" stroke-width="1"/><polygon points="189.3,547.7 191.7,547.7 190.5,549.8" fill="#173ab2" stroke="#173ab2" stroke-width="1"/><polygon points="191.7,547.7 190.5,549.8 192.8,549.8" fill="#1433ae" stroke="#1433ae" stroke-width="1"/><polygon points="191.7,547.7 194.0,547.7 192.8,549.8" fill="#163bca" stroke="#163bca" stroke-width="1"/><polygon points="194.0,547.7 192.8,549.8 195.2,549.8" fill="#1334c6" stroke="#1334c6" stroke-width="1"/><polygon points="194.0,547.7 196.4,547.7 195.2,549.8" fill="#163ce1" stroke="#163ce1" stroke-width="1"/><polygon points="196.4,547.7 195.2,549.8 197.6,549.8" fill="#214fe5" stroke="#214fe5" stroke-width="1"/><polygon points="196.4,547.7 198.7,547.7 197.6,549.8" fill="#2760ea" stroke="#2760ea" stroke-width="1"/><polygon points="198.7,547.7 197.6,549.8 199.9,549.8" fill="#3273ee" stroke="#3273ee" stroke-width="1"/><polygon points="198.7,547.7 201.1,547.7 199.9,549.8" fill="#3883f4" stroke="#3883f4" stroke-width="1"/><polygon points="201.1,547.7 199.9,549.8 202.2,549.8" fill="#4297f8" stroke="#4297f8" stroke-width="1"/><polygon points="188.2,549.8 187.0,551.8 189.3,551.8" fill="#0c1d5d" stroke="#0c1d5d" stroke-width="1"/><polygon points="188.2,549.8 190.5,549.8 189.3,551.8" fill="#0e2478" stroke="#0e2478" stroke-width="1"/><polygon points="190.5,549.8 189.3,551.8 191.7,551.8" fill="#0b1e74" stroke="#0b1e74" stroke-width="1"/><polygon points="190.5,549.8 192.8,549.8 191.7,551.8" fill="#0e2690" stroke="#0e2690" stroke-width="1"/><polygon points="192.8,549.8 191.7,551.8 194.0,551.8" fill="#112eac" stroke="#112eac" stroke-width="1"/><polygon points="192.8,549.8 195.2,549.8 194.0,551.8" fill="#1436c7" stroke="#1436c7" stroke-width="1"/><polygon points="195.2,549.8 194.0,551.8 196.4,551.8" fill="#183ee4" stroke="#183ee4" stroke-width="1"/><polygon points="195.2,549.8 197.6,549.8 196.4,551.8" fill="#2251e6" stroke="#2251e6" stroke-width="1"/><polygon points="197.6,549.8 196.4,551.8 198.7,551.8" fill="#2d64ea" stroke="#2d64ea" stroke-width="1"/><polygon points="197.6,549.8 199.9,549.8 198.7,551.8" fill="#3776ec" stroke="#3776ec" stroke-width="1"/><polygon points="199.9,549.8 198.7,551.8 201.1,551.8" fill="#428af0" stroke="#428af0" stroke-width="1"/><polygon points="199.9,549.8 202.2,549.8 201.1,551.8" fill="#489af6" stroke="#489af6" stroke-width="1"/><polygon points="202.2,549.8 201.1,551.8 203.4,551.8" fill="#53adfa" stroke="#53adfa" stroke-width="1"/><polygon points="187.0,551.8 185.8,553.8 188.2,553.8" fill="#030823" stroke="#030823" stroke-width="1"/><polygon points="187.0,551.8 189.3,551.8 188.2,553.8" fill="#060f3e" stroke="#060f3e" stroke-width="1"/><polygon points="189.3,551.8 188.2,553.8 190.5,553.8" fill="#09185b" stroke="#09185b" stroke-width="1"/><polygon points="189.3,551.8 191.7,551.8 190.5,553.8" fill="#0c1f76" stroke="#0c1f76" stroke-width="1"/><polygon points="191.7,551.8 190.5,553.8 192.8,553.8" fill="#0f2892" stroke="#0f2892" stroke-width="1"/><polygon points="191.7,551.8 194.0,551.8 192.8,553.8" fill="#1230ad" stroke="#1230ad" stroke-width="1"/><polygon points="194.0,551.8 192.8,553.8 195.2,553.8" fill="#1638ca" stroke="#1638ca" stroke-width="1"/><polygon points="194.0,551.8 196.4,551.8 195.2,553.8" fill="#1840e5" stroke="#1840e5" stroke-width="1"/><polygon points="196.4,551.8 195.2,553.8 197.6,553.8" fill="#2353e8" stroke="#2353e8" stroke-width="1"/><polygon points="196.4,551.8 198.7,551.8 197.6,553.8" fill="#2e65eb" stroke="#2e65eb" stroke-width="1"/><polygon points="198.7,551.8 197.6,553.8 199.9,553.8" fill="#3879ef" stroke="#3879ef" stroke-width="1"/><polygon points="198.7,551.8 201.1,551.8 199.9,553.8" fill="#438bf1" stroke="#438bf1" stroke-width="1"/><polygon points="201.1,551.8 199.9,553.8 202.2,553.8" fill="#4e9ef5" stroke="#4e9ef5" stroke-width="1"/><polygon points="201.1,551.8 203.4,551.8 202.2,553.8" fill="#58b0f8" stroke="#58b0f8" stroke-width="1"/><polygon points="203.4,551.8 202.2,553.8 204.6,553.8" fill="#63c4fb" stroke="#63c4fb" stroke-width="1"/></g>
<text x="373.27" y="355.00" font-size="18.8" fill="#000" textLength="26.30" lengthAdjust="spacingAndGlyphs" font-weight="bold" >(b)</text>
<text x="0" y="0" font-size="13.6" fill="#111" textLength="131.53" lengthAdjust="spacingAndGlyphs" transform="translate(409.2,508.08) rotate(-90)">Number of sequences</text>
<text x="527.62" y="557.00" font-size="14.6" fill="#111" textLength="165.72" lengthAdjust="spacingAndGlyphs" >Common taxonomic groups</text>
<text x="419.10" y="383.00" font-size="11.6" fill="#111" textLength="39.94" lengthAdjust="spacingAndGlyphs" >100000</text>
<line x1="462.20" y1="378.90" x2="467.40" y2="378.90" stroke="#333" stroke-width="1" />
<line x1="724.20" y1="378.90" x2="729.40" y2="378.90" stroke="#333" stroke-width="1" />
<text x="424.26" y="414.70" font-size="11.6" fill="#111" textLength="34.79" lengthAdjust="spacingAndGlyphs" >10000</text>
<line x1="462.20" y1="410.60" x2="467.40" y2="410.60" stroke="#333" stroke-width="1" />
<line x1="724.20" y1="410.60" x2="729.40" y2="410.60" stroke="#333" stroke-width="1" />
<text x="430.64" y="445.50" font-size="11.6" fill="#111" textLength="28.40" lengthAdjust="spacingAndGlyphs" >1000</text>
<line x1="462.20" y1="441.40" x2="467.40" y2="441.40" stroke="#333" stroke-width="1" />
<line x1="724.20" y1="441.40" x2="729.40" y2="441.40" stroke="#333" stroke-width="1" />
<text x="439.21" y="476.30" font-size="11.6" fill="#111" textLength="19.85" lengthAdjust="spacingAndGlyphs" >100</text>
<line x1="462.20" y1="472.20" x2="467.40" y2="472.20" stroke="#333" stroke-width="1" />
<line x1="724.20" y1="472.20" x2="729.40" y2="472.20" stroke="#333" stroke-width="1" />
<text x="445.92" y="507.50" font-size="11.6" fill="#111" textLength="13.13" lengthAdjust="spacingAndGlyphs" >10</text>
<line x1="462.20" y1="503.40" x2="467.40" y2="503.40" stroke="#333" stroke-width="1" />
<line x1="724.20" y1="503.40" x2="729.40" y2="503.40" stroke="#333" stroke-width="1" />
<line x1="462.20" y1="348.40" x2="729.40" y2="348.40" stroke="#a0a0a0" stroke-width="1" />
<line x1="462.20" y1="348.40" x2="462.20" y2="534.40" stroke="#a8a8a8" stroke-width="1.2" />
<line x1="729.40" y1="348.40" x2="729.40" y2="534.40" stroke="#6a6a6a" stroke-width="1.1" />
<line x1="462.20" y1="534.40" x2="729.40" y2="534.40" stroke="#333" stroke-width="1" />
<rect x="464.50" y="523.60" width="2.90" height="10.40" fill="#ff9a1e" />
<rect x="464.50" y="511.60" width="2.90" height="12.00" fill="#6e2cf0" />
<rect x="464.50" y="499.30" width="2.90" height="12.30" fill="#bde21e" />
<rect x="469.12" y="519.80" width="2.90" height="14.20" fill="#dc0a0a" />
<rect x="469.12" y="505.00" width="2.90" height="14.80" fill="#6e2cf0" />
<rect x="469.12" y="490.20" width="2.90" height="14.80" fill="#bde21e" />
<rect x="473.74" y="523.30" width="2.90" height="10.70" fill="#dc0a0a" />
<rect x="473.74" y="511.90" width="2.90" height="11.40" fill="#ff9a1e" />
<rect x="473.74" y="500.00" width="2.90" height="11.90" fill="#6e2cf0" />
<rect x="473.74" y="489.00" width="2.90" height="11.00" fill="#bde21e" />
<rect x="478.36" y="523.60" width="2.90" height="10.40" fill="#dc0a0a" />
<rect x="478.36" y="511.90" width="2.90" height="11.70" fill="#22b020" />
<rect x="478.36" y="500.00" width="2.90" height="11.90" fill="#6e2cf0" />
<rect x="478.36" y="489.00" width="2.90" height="11.00" fill="#bde21e" />
<rect x="482.98" y="515.40" width="2.90" height="18.60" fill="#dc0a0a" />
<rect x="482.98" y="495.80" width="2.90" height="19.60" fill="#ff9a1e" />
<rect x="482.98" y="477.20" width="2.90" height="18.60" fill="#6e2cf0" />
<rect x="487.60" y="505.70" width="2.90" height="28.30" fill="#6e2cf0" />
<rect x="487.60" y="476.70" width="2.90" height="29.00" fill="#bde21e" />
<rect x="492.22" y="503.90" width="2.90" height="30.10" fill="#dc0a0a" />
<rect x="492.22" y="473.30" width="2.90" height="30.60" fill="#6e2cf0" />
<rect x="496.84" y="513.90" width="2.90" height="20.10" fill="#22b020" />
<rect x="496.84" y="492.00" width="2.90" height="21.90" fill="#6e2cf0" />
<rect x="496.84" y="470.60" width="2.90" height="21.40" fill="#bde21e" />
<rect x="501.46" y="513.40" width="2.90" height="20.60" fill="#dc0a0a" />
<rect x="501.46" y="491.20" width="2.90" height="22.20" fill="#ff9a1e" />
<rect x="501.46" y="469.50" width="2.90" height="21.70" fill="#bde21e" />
<rect x="506.08" y="521.90" width="2.90" height="12.10" fill="#dc0a0a" />
<rect x="506.08" y="508.00" width="2.90" height="13.90" fill="#22b020" />
<rect x="506.08" y="494.70" width="2.90" height="13.30" fill="#ff9a1e" />
<rect x="506.08" y="481.60" width="2.90" height="13.10" fill="#6e2cf0" />
<rect x="506.08" y="468.00" width="2.90" height="13.60" fill="#bde21e" />
<rect x="510.70" y="511.70" width="2.90" height="22.30" fill="#dc0a0a" />
<rect x="510.70" y="488.50" width="2.90" height="23.20" fill="#22b020" />
<rect x="510.70" y="466.30" width="2.90" height="22.20" fill="#6e2cf0" />
<rect x="515.32" y="517.20" width="2.90" height="16.80" fill="#2040ee" />
<rect x="515.32" y="499.60" width="2.90" height="17.60" fill="#dc0a0a" />
<rect x="515.32" y="482.00" width="2.90" height="17.60" fill="#6e2cf0" />
<rect x="515.32" y="464.40" width="2.90" height="17.60" fill="#bde21e" />
<rect x="519.94" y="510.70" width="2.90" height="23.30" fill="#2040ee" />
<rect x="519.94" y="487.60" width="2.90" height="23.10" fill="#dc0a0a" />
<rect x="519.94" y="463.50" width="2.90" height="24.10" fill="#6e2cf0" />
<rect x="524.56" y="516.30" width="2.90" height="17.70" fill="#22b020" />
<rect x="524.56" y="498.70" width="2.90" height="17.60" fill="#ff9a1e" />
<rect x="524.56" y="480.20" width="2.90" height="18.50" fill="#6e2cf0" />
<rect x="524.56" y="462.20" width="2.90" height="18.00" fill="#bde21e" />
<rect x="529.18" y="497.80" width="2.90" height="36.20" fill="#ff9a1e" />
<rect x="529.18" y="460.40" width="2.90" height="37.40" fill="#6e2cf0" />
<rect x="533.80" y="509.80" width="2.90" height="24.20" fill="#dc0a0a" />
<rect x="533.80" y="483.90" width="2.90" height="25.90" fill="#22b020" />
<rect x="533.80" y="459.30" width="2.90" height="24.60" fill="#bde21e" />
<rect x="538.42" y="496.90" width="2.90" height="37.10" fill="#dc0a0a" />
<rect x="538.42" y="458.00" width="2.90" height="38.90" fill="#bde21e" />
<rect x="543.04" y="515.90" width="2.90" height="18.10" fill="#dc0a0a" />
<rect x="543.04" y="495.90" width="2.90" height="20.00" fill="#22b020" />
<rect x="543.04" y="476.50" width="2.90" height="19.40" fill="#ff9a1e" />
<rect x="543.04" y="457.00" width="2.90" height="19.50" fill="#6e2cf0" />
<rect x="547.66" y="515.40" width="2.90" height="18.60" fill="#dc0a0a" />
<rect x="547.66" y="495.90" width="2.90" height="19.50" fill="#22b020" />
<rect x="547.66" y="476.50" width="2.90" height="19.40" fill="#ff9a1e" />
<rect x="547.66" y="456.70" width="2.90" height="19.80" fill="#bde21e" />
<rect x="552.28" y="514.00" width="2.90" height="20.00" fill="#2040ee" />
<rect x="552.28" y="494.60" width="2.90" height="19.40" fill="#dc0a0a" />
<rect x="552.28" y="473.60" width="2.90" height="21.00" fill="#ff9a1e" />
<rect x="552.28" y="454.20" width="2.90" height="19.40" fill="#6e2cf0" />
<rect x="556.90" y="518.00" width="2.90" height="16.00" fill="#2040ee" />
<rect x="556.90" y="501.30" width="2.90" height="16.70" fill="#dc0a0a" />
<rect x="556.90" y="485.50" width="2.90" height="15.80" fill="#ff9a1e" />
<rect x="556.90" y="468.80" width="2.90" height="16.70" fill="#6e2cf0" />
<rect x="556.90" y="452.00" width="2.90" height="16.80" fill="#bde21e" />
<rect x="561.52" y="493.00" width="2.90" height="41.00" fill="#ff9a1e" />
<rect x="561.52" y="452.00" width="2.90" height="41.00" fill="#bde21e" />
<rect x="566.14" y="506.00" width="2.90" height="28.00" fill="#2040ee" />
<rect x="566.14" y="479.00" width="2.90" height="27.00" fill="#dc0a0a" />
<rect x="566.14" y="451.50" width="2.90" height="27.50" fill="#bde21e" />
<rect x="570.76" y="506.00" width="2.90" height="28.00" fill="#22b020" />
<rect x="570.76" y="478.00" width="2.90" height="28.00" fill="#ff9a1e" />
<rect x="570.76" y="449.40" width="2.90" height="28.60" fill="#6e2cf0" />
<rect x="575.38" y="506.00" width="2.90" height="28.00" fill="#2040ee" />
<rect x="575.38" y="477.50" width="2.90" height="28.50" fill="#6e2cf0" />
<rect x="575.38" y="448.70" width="2.90" height="28.80" fill="#bde21e" />
<rect x="580.00" y="505.00" width="2.90" height="29.00" fill="#22b020" />
<rect x="580.00" y="473.60" width="2.90" height="31.40" fill="#ff9a1e" />
<rect x="580.00" y="444.00" width="2.90" height="29.60" fill="#bde21e" />
<rect x="584.62" y="488.70" width="2.90" height="45.30" fill="#22b020" />
<rect x="584.62" y="443.30" width="2.90" height="45.40" fill="#6e2cf0" />
<rect x="589.24" y="488.30" width="2.90" height="45.70" fill="#dc0a0a" />
<rect x="589.24" y="442.90" width="2.90" height="45.40" fill="#ff9a1e" />
<rect x="593.86" y="511.50" width="2.90" height="22.50" fill="#2040ee" />
<rect x="593.86" y="488.30" width="2.90" height="23.20" fill="#dc0a0a" />
<rect x="593.86" y="471.40" width="2.90" height="16.90" fill="#ff9a1e" />
<rect x="593.86" y="442.20" width="2.90" height="29.20" fill="#bde21e" />
<rect x="598.48" y="515.60" width="2.90" height="18.40" fill="#2040ee" />
<rect x="598.48" y="498.20" width="2.90" height="17.40" fill="#dc0a0a" />
<rect x="598.48" y="479.50" width="2.90" height="18.70" fill="#22b020" />
<rect x="598.48" y="460.80" width="2.90" height="18.70" fill="#6e2cf0" />
<rect x="598.48" y="442.20" width="2.90" height="18.60" fill="#bde21e" />
<rect x="603.10" y="511.80" width="2.90" height="22.20" fill="#2040ee" />
<rect x="603.10" y="488.20" width="2.90" height="23.60" fill="#dc0a0a" />
<rect x="603.10" y="465.80" width="2.90" height="22.40" fill="#22b020" />
<rect x="603.10" y="441.70" width="2.90" height="24.10" fill="#6e2cf0" />
<rect x="607.72" y="488.20" width="2.90" height="45.80" fill="#22b020" />
<rect x="607.72" y="441.00" width="2.90" height="47.20" fill="#bde21e" />
<rect x="612.34" y="510.60" width="2.90" height="23.40" fill="#2040ee" />
<rect x="612.34" y="488.20" width="2.90" height="22.40" fill="#22b020" />
<rect x="612.34" y="463.30" width="2.90" height="24.90" fill="#6e2cf0" />
<rect x="612.34" y="439.70" width="2.90" height="23.60" fill="#bde21e" />
<rect x="616.96" y="487.00" width="2.90" height="47.00" fill="#2040ee" />
<rect x="616.96" y="438.00" width="2.90" height="49.00" fill="#6e2cf0" />
<rect x="621.58" y="503.10" width="2.90" height="30.90" fill="#2040ee" />
<rect x="621.58" y="470.80" width="2.90" height="32.30" fill="#ff9a1e" />
<rect x="621.58" y="438.00" width="2.90" height="32.80" fill="#6e2cf0" />
<rect x="626.20" y="501.90" width="2.90" height="32.10" fill="#dc0a0a" />
<rect x="626.20" y="469.60" width="2.90" height="32.30" fill="#22b020" />
<rect x="626.20" y="437.20" width="2.90" height="32.40" fill="#ff9a1e" />
<rect x="630.82" y="501.90" width="2.90" height="32.10" fill="#2040ee" />
<rect x="630.82" y="468.30" width="2.90" height="33.60" fill="#dc0a0a" />
<rect x="630.82" y="435.20" width="2.90" height="33.10" fill="#ff9a1e" />
<rect x="635.44" y="483.20" width="2.90" height="50.80" fill="#2040ee" />
<rect x="635.44" y="432.20" width="2.90" height="51.00" fill="#dc0a0a" />
<rect x="640.06" y="482.50" width="2.90" height="51.50" fill="#dc0a0a" />
<rect x="640.06" y="431.50" width="2.90" height="51.00" fill="#22b020" />
<rect x="644.68" y="500.40" width="2.90" height="33.60" fill="#2040ee" />
<rect x="644.68" y="465.50" width="2.90" height="34.90" fill="#22b020" />
<rect x="644.68" y="431.40" width="2.90" height="34.10" fill="#6e2cf0" />
<rect x="649.30" y="508.90" width="2.90" height="25.10" fill="#2040ee" />
<rect x="649.30" y="482.20" width="2.90" height="26.70" fill="#ff9a1e" />
<rect x="649.30" y="456.70" width="2.90" height="25.50" fill="#6e2cf0" />
<rect x="649.30" y="430.20" width="2.90" height="26.50" fill="#bde21e" />
<rect x="653.92" y="500.40" width="2.90" height="33.60" fill="#2040ee" />
<rect x="653.92" y="468.00" width="2.90" height="32.40" fill="#ff9a1e" />
<rect x="653.92" y="428.50" width="2.90" height="39.50" fill="#bde21e" />
<rect x="658.54" y="507.50" width="2.90" height="26.50" fill="#2040ee" />
<rect x="658.54" y="482.20" width="2.90" height="25.30" fill="#dc0a0a" />
<rect x="658.54" y="454.00" width="2.90" height="28.20" fill="#22b020" />
<rect x="658.54" y="427.20" width="2.90" height="26.80" fill="#bde21e" />
<rect x="663.16" y="480.80" width="2.90" height="53.20" fill="#22b020" />
<rect x="663.16" y="426.20" width="2.90" height="54.60" fill="#ff9a1e" />
<rect x="667.78" y="479.40" width="2.90" height="54.60" fill="#2040ee" />
<rect x="667.78" y="424.00" width="2.90" height="55.40" fill="#bde21e" />
<rect x="672.40" y="496.20" width="2.90" height="37.80" fill="#2040ee" />
<rect x="672.40" y="458.40" width="2.90" height="37.80" fill="#dc0a0a" />
<rect x="672.40" y="420.30" width="2.90" height="38.10" fill="#22b020" />
<rect x="677.02" y="496.20" width="2.90" height="37.80" fill="#2040ee" />
<rect x="677.02" y="457.10" width="2.90" height="39.10" fill="#22b020" />
<rect x="677.02" y="419.00" width="2.90" height="38.10" fill="#bde21e" />
<rect x="681.64" y="474.20" width="2.90" height="59.80" fill="#2040ee" />
<rect x="681.64" y="414.80" width="2.90" height="59.40" fill="#ff9a1e" />
<rect x="686.26" y="503.60" width="2.90" height="30.40" fill="#2040ee" />
<rect x="686.26" y="471.20" width="2.90" height="32.40" fill="#22b020" />
<rect x="686.26" y="440.20" width="2.90" height="31.00" fill="#ff9a1e" />
<rect x="686.26" y="408.80" width="2.90" height="31.40" fill="#6e2cf0" />
<rect x="690.88" y="508.80" width="2.90" height="25.20" fill="#2040ee" />
<rect x="690.88" y="483.80" width="2.90" height="25.00" fill="#dc0a0a" />
<rect x="690.88" y="457.20" width="2.90" height="26.60" fill="#22b020" />
<rect x="690.88" y="432.20" width="2.90" height="25.00" fill="#ff9a1e" />
<rect x="690.88" y="406.60" width="2.90" height="25.60" fill="#6e2cf0" />
<rect x="695.50" y="502.50" width="2.90" height="31.50" fill="#2040ee" />
<rect x="695.50" y="470.60" width="2.90" height="31.90" fill="#22b020" />
<rect x="695.50" y="436.90" width="2.90" height="33.70" fill="#ff9a1e" />
<rect x="695.50" y="405.60" width="2.90" height="31.30" fill="#bde21e" />
<rect x="700.12" y="502.50" width="2.90" height="31.50" fill="#2040ee" />
<rect x="700.12" y="469.70" width="2.90" height="32.80" fill="#dc0a0a" />
<rect x="700.12" y="436.90" width="2.90" height="32.80" fill="#22b020" />
<rect x="700.12" y="404.70" width="2.90" height="32.20" fill="#ff9a1e" />
<rect x="704.74" y="469.70" width="2.90" height="64.30" fill="#2040ee" />
<rect x="704.74" y="404.00" width="2.90" height="65.70" fill="#22b020" />
<rect x="709.36" y="491.60" width="2.90" height="42.40" fill="#2040ee" />
<rect x="709.36" y="446.30" width="2.90" height="45.30" fill="#22b020" />
<rect x="709.36" y="402.50" width="2.90" height="43.80" fill="#ff9a1e" />
<rect x="713.98" y="505.60" width="2.90" height="28.40" fill="#2040ee" />
<rect x="713.98" y="479.00" width="2.90" height="26.60" fill="#dc0a0a" />
<rect x="713.98" y="451.00" width="2.90" height="28.00" fill="#22b020" />
<rect x="713.98" y="395.60" width="2.90" height="55.40" fill="#bde21e" />
<rect x="718.60" y="507.20" width="2.90" height="26.80" fill="#2040ee" />
<rect x="718.60" y="477.50" width="2.90" height="29.70" fill="#22b020" />
<rect x="718.60" y="449.40" width="2.90" height="28.10" fill="#ff9a1e" />
<rect x="718.60" y="420.60" width="2.90" height="28.80" fill="#6e2cf0" />
<rect x="718.60" y="391.60" width="2.90" height="29.00" fill="#bde21e" />
<rect x="723.22" y="508.80" width="2.90" height="25.20" fill="#2040ee" />
<rect x="723.22" y="481.30" width="2.90" height="27.50" fill="#dc0a0a" />
<rect x="723.22" y="454.00" width="2.90" height="27.30" fill="#22b020" />
<rect x="723.22" y="428.00" width="2.90" height="26.00" fill="#ff9a1e" />
<rect x="723.22" y="401.00" width="2.90" height="27.00" fill="#6e2cf0" />
<rect x="723.22" y="373.80" width="2.90" height="27.20" fill="#bde21e" />
<rect x="473.20" y="354.20" width="6.80" height="9.00" fill="#bde21e" />
<text x="483.67" y="361.50" font-size="10.3" fill="#111" textLength="67.76" lengthAdjust="spacingAndGlyphs" >Cyanobacteria</text>
<rect x="473.20" y="364.72" width="6.80" height="9.00" fill="#6e2cf0" />
<text x="483.72" y="371.96" font-size="10.3" fill="#111" textLength="61.97" lengthAdjust="spacingAndGlyphs" >Spirochaetes</text>
<rect x="473.20" y="375.24" width="6.80" height="9.00" fill="#ff9a1e" />
<text x="483.72" y="382.42" font-size="10.3" fill="#111" textLength="108.17" lengthAdjust="spacingAndGlyphs" >Other Bacterial Groups</text>
<rect x="473.20" y="385.76" width="6.80" height="9.00" fill="#22b020" />
<text x="484.20" y="392.88" font-size="10.3" fill="#111" textLength="123.99" lengthAdjust="spacingAndGlyphs" >Actinobacteria / Firmicutes</text>
<rect x="473.20" y="396.28" width="6.80" height="9.00" fill="#dc0a0a" />
<text x="484.20" y="403.34" font-size="10.3" fill="#111" textLength="38.50" lengthAdjust="spacingAndGlyphs" >Archaea</text>
<rect x="473.20" y="406.80" width="6.80" height="9.00" fill="#2040ee" />
<text x="483.36" y="413.80" font-size="10.3" fill="#111" textLength="68.64" lengthAdjust="spacingAndGlyphs" >Proteobacteria</text>
</svg></body></html>
